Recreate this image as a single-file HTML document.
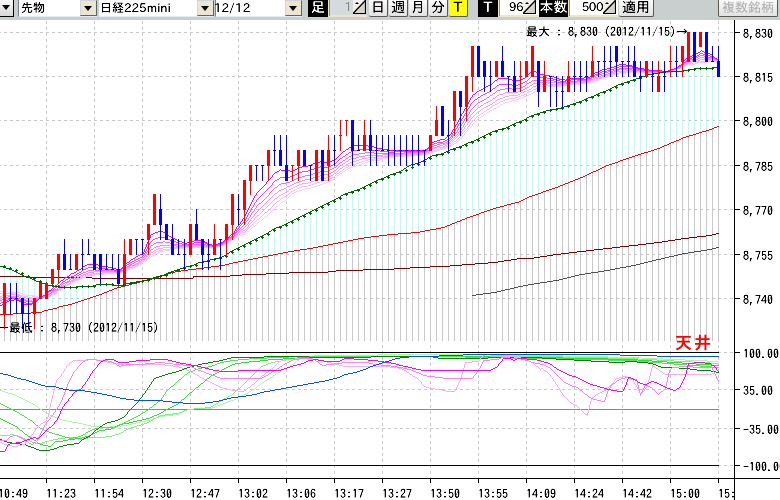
<!DOCTYPE html>
<html><head><meta charset="utf-8"><title>chart</title><style>
html,body{margin:0;padding:0;background:#fff;width:780px;height:500px;overflow:hidden;position:relative}
#chart{position:absolute;left:0;top:0}
#chart text{font-family:"IPAGothic","Noto Sans CJK JP",monospace;font-size:12px;fill:#000}
#chart text.tenjo{font-family:"IPAGothic","Noto Sans CJK JP",sans-serif;font-size:17px;font-weight:700;letter-spacing:2px;fill:#ff0000}
#tb{position:absolute;left:0;top:0;width:780px;height:20px;background:#c9cfcf;font-family:"IPAPGothic","IPAGothic","Noto Sans CJK JP",sans-serif;font-size:12px;overflow:hidden}
#tb div,#tb span{position:absolute;box-sizing:border-box}
.lbtn{left:0;top:0;width:14px;height:17px;background:linear-gradient(#fafafa,#d6d6d6);border-right:1px solid #000;border-bottom:1px solid #000}
.arr{width:0;height:0;border-left:4px solid transparent;border-right:4px solid transparent;border-top:5px solid #000}
.combo{top:0;height:17px;background:#fff;border-left:1px solid #7a8288;border-bottom:1px solid #e4ecf2}
.combo.nb{border-left:1px solid #c9cfcf}
.ct{top:0px;line-height:14px;white-space:nowrap;color:#000}
.cbtn{right:0;top:0;width:17px;height:16px;background:#ece6d0;border:1px solid #cfd4d8;border-right:1px solid #5e6266;border-bottom:1px solid #5e6266}
.blk{top:0;height:17px;background:#000;color:#fff}
.blk span{left:0;right:0;top:0px;text-align:center;line-height:14px;font-size:14px}
.inp{top:0;height:17px;background:#fff;border-bottom:1px solid #efe6c4;border-left:1px solid #efe6c4;box-shadow:inset 1px 0 0 #8c9094, inset 0 -1px 0 #dde6ee}
.inp.dis{background:#d5dade}
.it{top:0px;line-height:12px;color:#000}
.dis .it{color:#8a8a7a}
.spin{top:0px;width:13px;height:14px}
.btn{top:0;height:17px;background:linear-gradient(#fbfbfb,#e2e2e2);border-right:1px solid #585850;border-bottom:1px solid #585850;border-bottom-right-radius:2px;border-bottom-left-radius:2px}
.btn span{left:0;right:0;top:0px;text-align:center;line-height:14px;font-size:14px;color:#000}
.btn.yel{background:#ffff00}
.btn.dtx span{color:#ababab;font-size:13px;top:1px}
.btn.dtx{border-left:1px solid #585850}
.ct,.btn span,.blk span,.it{filter:url(#crisp)}
.btn.dtx span{filter:none}
</style></head>
<body><svg id="chart" width="780" height="500" viewBox="0 0 780 500" shape-rendering="crispEdges"><line x1="46.5" y1="21" x2="46.5" y2="478" stroke="#c8c8c8" stroke-dasharray="3 3"/><line x1="94.5" y1="21" x2="94.5" y2="478" stroke="#c8c8c8" stroke-dasharray="3 3"/><line x1="142.5" y1="21" x2="142.5" y2="478" stroke="#c8c8c8" stroke-dasharray="3 3"/><line x1="190.5" y1="21" x2="190.5" y2="478" stroke="#c8c8c8" stroke-dasharray="3 3"/><line x1="238.5" y1="21" x2="238.5" y2="478" stroke="#c8c8c8" stroke-dasharray="3 3"/><line x1="286.5" y1="21" x2="286.5" y2="478" stroke="#c8c8c8" stroke-dasharray="3 3"/><line x1="334.5" y1="21" x2="334.5" y2="478" stroke="#c8c8c8" stroke-dasharray="3 3"/><line x1="382.5" y1="21" x2="382.5" y2="478" stroke="#c8c8c8" stroke-dasharray="3 3"/><line x1="430.5" y1="21" x2="430.5" y2="478" stroke="#c8c8c8" stroke-dasharray="3 3"/><line x1="478.5" y1="21" x2="478.5" y2="478" stroke="#c8c8c8" stroke-dasharray="3 3"/><line x1="526.5" y1="21" x2="526.5" y2="478" stroke="#c8c8c8" stroke-dasharray="3 3"/><line x1="574.5" y1="21" x2="574.5" y2="478" stroke="#c8c8c8" stroke-dasharray="3 3"/><line x1="622.5" y1="21" x2="622.5" y2="478" stroke="#c8c8c8" stroke-dasharray="3 3"/><line x1="670.5" y1="21" x2="670.5" y2="478" stroke="#c8c8c8" stroke-dasharray="3 3"/><line x1="718.5" y1="21" x2="718.5" y2="478" stroke="#c8c8c8" stroke-dasharray="3 3"/><line x1="-2" y1="32.5" x2="734" y2="32.5" stroke="#c8c8c8" stroke-dasharray="3 3"/><line x1="-2" y1="76.5" x2="734" y2="76.5" stroke="#c8c8c8" stroke-dasharray="3 3"/><line x1="-2" y1="120.5" x2="734" y2="120.5" stroke="#c8c8c8" stroke-dasharray="3 3"/><line x1="-2" y1="165.5" x2="734" y2="165.5" stroke="#c8c8c8" stroke-dasharray="3 3"/><line x1="-2" y1="209.5" x2="734" y2="209.5" stroke="#c8c8c8" stroke-dasharray="3 3"/><line x1="-2" y1="254.5" x2="734" y2="254.5" stroke="#c8c8c8" stroke-dasharray="3 3"/><line x1="-2" y1="298.5" x2="734" y2="298.5" stroke="#c8c8c8" stroke-dasharray="3 3"/><line x1="-2" y1="352.5" x2="734" y2="352.5" stroke="#c8c8c8" stroke-dasharray="3 3"/><line x1="-2" y1="389.5" x2="734" y2="389.5" stroke="#c8c8c8" stroke-dasharray="3 3"/><line x1="-2" y1="428.5" x2="734" y2="428.5" stroke="#c8c8c8" stroke-dasharray="3 3"/><line x1="-2" y1="465.5" x2="734" y2="465.5" stroke="#c8c8c8" stroke-dasharray="3 3"/><rect x="4" y="314" width="1" height="27" fill="#c8c8c8"/><rect x="4" y="266" width="1" height="48" fill="#c4f6f6"/><rect x="10" y="314" width="1" height="27" fill="#c8c8c8"/><rect x="10" y="268" width="1" height="46" fill="#c4f6f6"/><rect x="16" y="313" width="1" height="28" fill="#c8c8c8"/><rect x="16" y="270" width="1" height="43" fill="#c4f6f6"/><rect x="22" y="313" width="1" height="28" fill="#c8c8c8"/><rect x="22" y="273" width="1" height="40" fill="#c4f6f6"/><rect x="28" y="313" width="1" height="28" fill="#c8c8c8"/><rect x="28" y="276" width="1" height="37" fill="#c4f6f6"/><rect x="34" y="312" width="1" height="29" fill="#c8c8c8"/><rect x="34" y="278" width="1" height="34" fill="#c4f6f6"/><rect x="40" y="312" width="1" height="29" fill="#c8c8c8"/><rect x="40" y="281" width="1" height="31" fill="#c4f6f6"/><rect x="46" y="310" width="1" height="31" fill="#c8c8c8"/><rect x="46" y="283" width="1" height="27" fill="#c4f6f6"/><rect x="52" y="308" width="1" height="33" fill="#c8c8c8"/><rect x="52" y="285" width="1" height="23" fill="#c4f6f6"/><rect x="58" y="307" width="1" height="34" fill="#c8c8c8"/><rect x="58" y="286" width="1" height="21" fill="#c4f6f6"/><rect x="64" y="306" width="1" height="35" fill="#c8c8c8"/><rect x="64" y="287" width="1" height="19" fill="#c4f6f6"/><rect x="70" y="304" width="1" height="37" fill="#c8c8c8"/><rect x="70" y="287" width="1" height="17" fill="#c4f6f6"/><rect x="76" y="302" width="1" height="39" fill="#c8c8c8"/><rect x="76" y="287" width="1" height="15" fill="#c4f6f6"/><rect x="82" y="300" width="1" height="41" fill="#c8c8c8"/><rect x="82" y="286" width="1" height="14" fill="#c4f6f6"/><rect x="88" y="298" width="1" height="43" fill="#c8c8c8"/><rect x="88" y="286" width="1" height="12" fill="#c4f6f6"/><rect x="94" y="296" width="1" height="45" fill="#c8c8c8"/><rect x="94" y="286" width="1" height="10" fill="#c4f6f6"/><rect x="100" y="294" width="1" height="47" fill="#c8c8c8"/><rect x="100" y="284" width="1" height="10" fill="#c4f6f6"/><rect x="106" y="292" width="1" height="49" fill="#c8c8c8"/><rect x="106" y="284" width="1" height="8" fill="#c4f6f6"/><rect x="112" y="290" width="1" height="51" fill="#c8c8c8"/><rect x="112" y="284" width="1" height="6" fill="#c4f6f6"/><rect x="118" y="288" width="1" height="53" fill="#c8c8c8"/><rect x="118" y="285" width="1" height="3" fill="#c4f6f6"/><rect x="124" y="286" width="1" height="55" fill="#c8c8c8"/><rect x="124" y="285" width="1" height="1" fill="#c4f6f6"/><rect x="130" y="284" width="1" height="57" fill="#c8c8c8"/><rect x="130" y="283" width="1" height="1" fill="#c4f6f6"/><rect x="136" y="282" width="1" height="59" fill="#c8c8c8"/><rect x="142" y="281" width="1" height="60" fill="#c8c8c8"/><rect x="148" y="279" width="1" height="62" fill="#c8c8c8"/><rect x="154" y="278" width="1" height="63" fill="#c8c8c8"/><rect x="160" y="276" width="1" height="65" fill="#c8c8c8"/><rect x="166" y="274" width="1" height="67" fill="#c8c8c8"/><rect x="172" y="272" width="1" height="69" fill="#c8c8c8"/><rect x="178" y="271" width="1" height="70" fill="#c8c8c8"/><rect x="178" y="270" width="1" height="1" fill="#c4f6f6"/><rect x="184" y="270" width="1" height="71" fill="#c8c8c8"/><rect x="184" y="268" width="1" height="2" fill="#c4f6f6"/><rect x="190" y="269" width="1" height="72" fill="#c8c8c8"/><rect x="190" y="266" width="1" height="3" fill="#c4f6f6"/><rect x="196" y="268" width="1" height="73" fill="#c8c8c8"/><rect x="196" y="265" width="1" height="3" fill="#c4f6f6"/><rect x="202" y="268" width="1" height="73" fill="#c8c8c8"/><rect x="202" y="262" width="1" height="6" fill="#c4f6f6"/><rect x="208" y="267" width="1" height="74" fill="#c8c8c8"/><rect x="208" y="261" width="1" height="6" fill="#c4f6f6"/><rect x="214" y="266" width="1" height="75" fill="#c8c8c8"/><rect x="214" y="259" width="1" height="7" fill="#c4f6f6"/><rect x="220" y="265" width="1" height="76" fill="#c8c8c8"/><rect x="220" y="258" width="1" height="7" fill="#c4f6f6"/><rect x="226" y="264" width="1" height="77" fill="#c8c8c8"/><rect x="226" y="256" width="1" height="8" fill="#c4f6f6"/><rect x="232" y="263" width="1" height="78" fill="#c8c8c8"/><rect x="232" y="252" width="1" height="11" fill="#c4f6f6"/><rect x="238" y="261" width="1" height="80" fill="#c8c8c8"/><rect x="238" y="249" width="1" height="12" fill="#c4f6f6"/><rect x="244" y="260" width="1" height="81" fill="#c8c8c8"/><rect x="244" y="246" width="1" height="14" fill="#c4f6f6"/><rect x="250" y="259" width="1" height="82" fill="#c8c8c8"/><rect x="250" y="243" width="1" height="16" fill="#c4f6f6"/><rect x="256" y="258" width="1" height="83" fill="#c8c8c8"/><rect x="256" y="240" width="1" height="18" fill="#c4f6f6"/><rect x="262" y="256" width="1" height="85" fill="#c8c8c8"/><rect x="262" y="237" width="1" height="19" fill="#c4f6f6"/><rect x="268" y="255" width="1" height="86" fill="#c8c8c8"/><rect x="268" y="234" width="1" height="21" fill="#c4f6f6"/><rect x="274" y="254" width="1" height="87" fill="#c8c8c8"/><rect x="274" y="230" width="1" height="24" fill="#c4f6f6"/><rect x="280" y="253" width="1" height="88" fill="#c8c8c8"/><rect x="280" y="227" width="1" height="26" fill="#c4f6f6"/><rect x="286" y="252" width="1" height="89" fill="#c8c8c8"/><rect x="286" y="225" width="1" height="27" fill="#c4f6f6"/><rect x="292" y="251" width="1" height="90" fill="#c8c8c8"/><rect x="292" y="222" width="1" height="29" fill="#c4f6f6"/><rect x="298" y="250" width="1" height="91" fill="#c8c8c8"/><rect x="298" y="219" width="1" height="31" fill="#c4f6f6"/><rect x="304" y="249" width="1" height="92" fill="#c8c8c8"/><rect x="304" y="216" width="1" height="33" fill="#c4f6f6"/><rect x="310" y="248" width="1" height="93" fill="#c8c8c8"/><rect x="310" y="213" width="1" height="35" fill="#c4f6f6"/><rect x="316" y="247" width="1" height="94" fill="#c8c8c8"/><rect x="316" y="210" width="1" height="37" fill="#c4f6f6"/><rect x="322" y="246" width="1" height="95" fill="#c8c8c8"/><rect x="322" y="207" width="1" height="39" fill="#c4f6f6"/><rect x="328" y="245" width="1" height="96" fill="#c8c8c8"/><rect x="328" y="204" width="1" height="41" fill="#c4f6f6"/><rect x="334" y="244" width="1" height="97" fill="#c8c8c8"/><rect x="334" y="201" width="1" height="43" fill="#c4f6f6"/><rect x="340" y="242" width="1" height="99" fill="#c8c8c8"/><rect x="340" y="198" width="1" height="44" fill="#c4f6f6"/><rect x="346" y="241" width="1" height="100" fill="#c8c8c8"/><rect x="346" y="194" width="1" height="47" fill="#c4f6f6"/><rect x="352" y="240" width="1" height="101" fill="#c8c8c8"/><rect x="352" y="192" width="1" height="48" fill="#c4f6f6"/><rect x="358" y="239" width="1" height="102" fill="#c8c8c8"/><rect x="358" y="190" width="1" height="49" fill="#c4f6f6"/><rect x="364" y="238" width="1" height="103" fill="#c8c8c8"/><rect x="364" y="188" width="1" height="50" fill="#c4f6f6"/><rect x="370" y="237" width="1" height="104" fill="#c8c8c8"/><rect x="370" y="185" width="1" height="52" fill="#c4f6f6"/><rect x="376" y="236" width="1" height="105" fill="#c8c8c8"/><rect x="376" y="182" width="1" height="54" fill="#c4f6f6"/><rect x="382" y="235" width="1" height="106" fill="#c8c8c8"/><rect x="382" y="179" width="1" height="56" fill="#c4f6f6"/><rect x="388" y="234" width="1" height="107" fill="#c8c8c8"/><rect x="388" y="177" width="1" height="57" fill="#c4f6f6"/><rect x="394" y="233" width="1" height="108" fill="#c8c8c8"/><rect x="394" y="174" width="1" height="59" fill="#c4f6f6"/><rect x="400" y="233" width="1" height="108" fill="#c8c8c8"/><rect x="400" y="172" width="1" height="61" fill="#c4f6f6"/><rect x="406" y="232" width="1" height="109" fill="#c8c8c8"/><rect x="406" y="170" width="1" height="62" fill="#c4f6f6"/><rect x="412" y="232" width="1" height="109" fill="#c8c8c8"/><rect x="412" y="167" width="1" height="65" fill="#c4f6f6"/><rect x="418" y="231" width="1" height="110" fill="#c8c8c8"/><rect x="418" y="164" width="1" height="67" fill="#c4f6f6"/><rect x="424" y="230" width="1" height="111" fill="#c8c8c8"/><rect x="424" y="161" width="1" height="69" fill="#c4f6f6"/><rect x="430" y="229" width="1" height="112" fill="#c8c8c8"/><rect x="430" y="158" width="1" height="71" fill="#c4f6f6"/><rect x="436" y="228" width="1" height="113" fill="#c8c8c8"/><rect x="436" y="155" width="1" height="73" fill="#c4f6f6"/><rect x="442" y="227" width="1" height="114" fill="#c8c8c8"/><rect x="442" y="154" width="1" height="73" fill="#c4f6f6"/><rect x="448" y="225" width="1" height="116" fill="#c8c8c8"/><rect x="448" y="152" width="1" height="73" fill="#c4f6f6"/><rect x="454" y="223" width="1" height="118" fill="#c8c8c8"/><rect x="454" y="149" width="1" height="74" fill="#c4f6f6"/><rect x="460" y="220" width="1" height="121" fill="#c8c8c8"/><rect x="460" y="147" width="1" height="73" fill="#c4f6f6"/><rect x="466" y="218" width="1" height="123" fill="#c8c8c8"/><rect x="466" y="145" width="1" height="73" fill="#c4f6f6"/><rect x="472" y="216" width="1" height="125" fill="#c8c8c8"/><rect x="472" y="142" width="1" height="74" fill="#c4f6f6"/><rect x="478" y="214" width="1" height="127" fill="#c8c8c8"/><rect x="478" y="140" width="1" height="74" fill="#c4f6f6"/><rect x="484" y="212" width="1" height="129" fill="#c8c8c8"/><rect x="484" y="137" width="1" height="75" fill="#c4f6f6"/><rect x="490" y="210" width="1" height="131" fill="#c8c8c8"/><rect x="490" y="134" width="1" height="76" fill="#c4f6f6"/><rect x="496" y="208" width="1" height="133" fill="#c8c8c8"/><rect x="496" y="131" width="1" height="77" fill="#c4f6f6"/><rect x="502" y="206" width="1" height="135" fill="#c8c8c8"/><rect x="502" y="129" width="1" height="77" fill="#c4f6f6"/><rect x="508" y="205" width="1" height="136" fill="#c8c8c8"/><rect x="508" y="128" width="1" height="77" fill="#c4f6f6"/><rect x="514" y="203" width="1" height="138" fill="#c8c8c8"/><rect x="514" y="125" width="1" height="78" fill="#c4f6f6"/><rect x="520" y="201" width="1" height="140" fill="#c8c8c8"/><rect x="520" y="122" width="1" height="79" fill="#c4f6f6"/><rect x="526" y="198" width="1" height="143" fill="#c8c8c8"/><rect x="526" y="120" width="1" height="78" fill="#c4f6f6"/><rect x="532" y="196" width="1" height="145" fill="#c8c8c8"/><rect x="532" y="116" width="1" height="80" fill="#c4f6f6"/><rect x="538" y="194" width="1" height="147" fill="#c8c8c8"/><rect x="538" y="114" width="1" height="80" fill="#c4f6f6"/><rect x="544" y="191" width="1" height="150" fill="#c8c8c8"/><rect x="544" y="112" width="1" height="79" fill="#c4f6f6"/><rect x="550" y="189" width="1" height="152" fill="#c8c8c8"/><rect x="550" y="110" width="1" height="79" fill="#c4f6f6"/><rect x="556" y="187" width="1" height="154" fill="#c8c8c8"/><rect x="556" y="109" width="1" height="78" fill="#c4f6f6"/><rect x="562" y="184" width="1" height="157" fill="#c8c8c8"/><rect x="562" y="108" width="1" height="76" fill="#c4f6f6"/><rect x="568" y="182" width="1" height="159" fill="#c8c8c8"/><rect x="568" y="106" width="1" height="76" fill="#c4f6f6"/><rect x="574" y="180" width="1" height="161" fill="#c8c8c8"/><rect x="574" y="104" width="1" height="76" fill="#c4f6f6"/><rect x="580" y="178" width="1" height="163" fill="#c8c8c8"/><rect x="580" y="102" width="1" height="76" fill="#c4f6f6"/><rect x="586" y="175" width="1" height="166" fill="#c8c8c8"/><rect x="586" y="100" width="1" height="75" fill="#c4f6f6"/><rect x="592" y="172" width="1" height="169" fill="#c8c8c8"/><rect x="592" y="97" width="1" height="75" fill="#c4f6f6"/><rect x="598" y="169" width="1" height="172" fill="#c8c8c8"/><rect x="598" y="95" width="1" height="74" fill="#c4f6f6"/><rect x="604" y="166" width="1" height="175" fill="#c8c8c8"/><rect x="604" y="92" width="1" height="74" fill="#c4f6f6"/><rect x="610" y="164" width="1" height="177" fill="#c8c8c8"/><rect x="610" y="90" width="1" height="74" fill="#c4f6f6"/><rect x="616" y="162" width="1" height="179" fill="#c8c8c8"/><rect x="616" y="87" width="1" height="75" fill="#c4f6f6"/><rect x="622" y="160" width="1" height="181" fill="#c8c8c8"/><rect x="622" y="84" width="1" height="76" fill="#c4f6f6"/><rect x="628" y="158" width="1" height="183" fill="#c8c8c8"/><rect x="628" y="82" width="1" height="76" fill="#c4f6f6"/><rect x="634" y="156" width="1" height="185" fill="#c8c8c8"/><rect x="634" y="80" width="1" height="76" fill="#c4f6f6"/><rect x="640" y="154" width="1" height="187" fill="#c8c8c8"/><rect x="640" y="78" width="1" height="76" fill="#c4f6f6"/><rect x="646" y="152" width="1" height="189" fill="#c8c8c8"/><rect x="646" y="76" width="1" height="76" fill="#c4f6f6"/><rect x="652" y="150" width="1" height="191" fill="#c8c8c8"/><rect x="652" y="74" width="1" height="76" fill="#c4f6f6"/><rect x="658" y="148" width="1" height="193" fill="#c8c8c8"/><rect x="658" y="73" width="1" height="75" fill="#c4f6f6"/><rect x="664" y="145" width="1" height="196" fill="#c8c8c8"/><rect x="664" y="72" width="1" height="73" fill="#c4f6f6"/><rect x="670" y="143" width="1" height="198" fill="#c8c8c8"/><rect x="670" y="71" width="1" height="72" fill="#c4f6f6"/><rect x="676" y="140" width="1" height="201" fill="#c8c8c8"/><rect x="676" y="71" width="1" height="69" fill="#c4f6f6"/><rect x="682" y="138" width="1" height="203" fill="#c8c8c8"/><rect x="682" y="71" width="1" height="67" fill="#c4f6f6"/><rect x="688" y="136" width="1" height="205" fill="#c8c8c8"/><rect x="688" y="70" width="1" height="66" fill="#c4f6f6"/><rect x="694" y="134" width="1" height="207" fill="#c8c8c8"/><rect x="694" y="69" width="1" height="65" fill="#c4f6f6"/><rect x="700" y="132" width="1" height="209" fill="#c8c8c8"/><rect x="700" y="68" width="1" height="64" fill="#c4f6f6"/><rect x="706" y="130" width="1" height="211" fill="#c8c8c8"/><rect x="706" y="68" width="1" height="62" fill="#c4f6f6"/><rect x="712" y="128" width="1" height="213" fill="#c8c8c8"/><rect x="712" y="68" width="1" height="60" fill="#c4f6f6"/><rect x="718" y="126" width="1" height="215" fill="#c8c8c8"/><rect x="718" y="67" width="1" height="59" fill="#c4f6f6"/><g fill="none" stroke-width="1"><path d="M716 233h3v1h-3zM712 234h4v1h-4zM706 235h6v1h-6zM697 236h9v1h-9zM689 237h8v1h-8zM681 238h8v1h-8zM675 239h6v1h-6zM668 240h7v1h-7zM662 241h6v1h-6zM654 242h8v1h-8zM646 243h8v1h-8zM638 244h8v1h-8zM629 245h9v1h-9zM620 246h9v1h-9zM612 247h8v1h-8zM603 248h9v1h-9zM594 249h9v1h-9zM586 250h8v1h-8zM577 251h9v1h-9zM569 252h8v1h-8zM561 253h8v1h-8zM553 254h8v1h-8zM547 255h6v1h-6zM540 256h7v1h-7zM534 257h6v1h-6zM517 258h17v1h-17zM511 259h6v1h-6zM504 260h7v1h-7zM498 261h6v1h-6zM488 262h10v1h-10zM475 263h13v1h-13zM462 264h13v1h-13zM450 265h12v1h-12zM430 266h20v1h-20zM410 267h20v1h-20zM394 268h16v1h-16zM363 269h31v1h-31zM336 270h27v1h-27zM328 271h8v1h-8zM289 272h39v1h-39zM266 273h23v1h-23zM242 274h24v1h-24zM230 275h12v1h-12zM0 276h26v1h-26zM193 276h37v1h-37zM26 277h66v1h-66zM193 277h1v1h-1zM92 278h101v1h-101z" fill="#800000"/><path d="M716 247h3v1h-3zM712 248h4v1h-4zM707 249h5v1h-5zM701 250h6v1h-6zM694 251h7v1h-7zM688 252h6v1h-6zM682 253h6v1h-6zM678 254h4v1h-4zM674 255h4v1h-4zM669 256h5v1h-5zM665 257h4v1h-4zM661 258h4v1h-4zM656 259h5v1h-5zM652 260h4v1h-4zM648 261h4v1h-4zM644 262h4v1h-4zM640 263h4v1h-4zM636 264h4v1h-4zM631 265h5v1h-5zM626 266h5v1h-5zM620 267h6v1h-6zM615 268h5v1h-5zM610 269h5v1h-5zM604 270h6v1h-6zM598 271h6v1h-6zM591 272h7v1h-7zM585 273h6v1h-6zM579 274h6v1h-6zM575 275h4v1h-4zM571 276h4v1h-4zM567 277h4v1h-4zM563 278h4v1h-4zM559 279h4v1h-4zM553 280h6v1h-6zM547 281h6v1h-6zM540 282h7v1h-7zM534 283h6v1h-6zM528 284h6v1h-6zM523 285h5v1h-5zM518 286h5v1h-5zM514 287h4v1h-4zM510 288h4v1h-4zM505 289h5v1h-5zM501 290h4v1h-4zM497 291h4v1h-4zM491 292h6v1h-6zM483 293h8v1h-8zM476 294h7v1h-7zM472 295h4v1h-4z" fill="#505050"/><path d="M717 126h2v1h-2zM714 127h3v1h-3zM712 128h2v1h-2zM709 129h3v1h-3zM706 130h3v1h-3zM702 131h4v1h-4zM699 132h3v1h-3zM696 133h3v1h-3zM693 134h3v1h-3zM689 135h4v1h-4zM686 136h3v1h-3zM683 137h3v1h-3zM681 138h2v1h-2zM679 139h2v1h-2zM676 140h3v1h-3zM674 141h2v1h-2zM671 142h3v1h-3zM669 143h2v1h-2zM667 144h2v1h-2zM664 145h3v1h-3zM662 146h2v1h-2zM660 147h2v1h-2zM657 148h3v1h-3zM654 149h3v1h-3zM651 150h3v1h-3zM648 151h3v1h-3zM644 152h4v1h-4zM641 153h3v1h-3zM638 154h3v1h-3zM635 155h3v1h-3zM632 156h3v1h-3zM629 157h3v1h-3zM626 158h3v1h-3zM623 159h3v1h-3zM620 160h3v1h-3zM618 161h2v1h-2zM615 162h3v1h-3zM612 163h3v1h-3zM609 164h3v1h-3zM606 165h3v1h-3zM604 166h2v1h-2zM602 167h2v1h-2zM600 168h2v1h-2zM598 169h2v1h-2zM596 170h2v1h-2zM593 171h3v1h-3zM591 172h2v1h-2zM589 173h2v1h-2zM587 174h2v1h-2zM585 175h2v1h-2zM583 176h2v1h-2zM580 177h3v1h-3zM578 178h2v1h-2zM575 179h3v1h-3zM573 180h2v1h-2zM570 181h3v1h-3zM568 182h2v1h-2zM565 183h3v1h-3zM563 184h2v1h-2zM560 185h3v1h-3zM558 186h2v1h-2zM555 187h3v1h-3zM552 188h3v1h-3zM549 189h3v1h-3zM546 190h3v1h-3zM543 191h3v1h-3zM541 192h2v1h-2zM538 193h3v1h-3zM535 194h3v1h-3zM532 195h3v1h-3zM529 196h3v1h-3zM527 197h2v1h-2zM525 198h2v1h-2zM523 199h2v1h-2zM521 200h2v1h-2zM519 201h2v1h-2zM515 202h4v1h-4zM511 203h4v1h-4zM507 204h4v1h-4zM504 205h3v1h-3zM500 206h4v1h-4zM496 207h4v1h-4zM493 208h3v1h-3zM490 209h3v1h-3zM487 210h3v1h-3zM484 211h3v1h-3zM481 212h3v1h-3zM479 213h2v1h-2zM476 214h3v1h-3zM473 215h3v1h-3zM470 216h3v1h-3zM467 217h3v1h-3zM465 218h2v1h-2zM462 219h3v1h-3zM460 220h2v1h-2zM457 221h3v1h-3zM455 222h2v1h-2zM452 223h3v1h-3zM450 224h2v1h-2zM447 225h3v1h-3zM445 226h2v1h-2zM441 227h4v1h-4zM436 228h5v1h-5zM430 229h6v1h-6zM425 230h5v1h-5zM420 231h5v1h-5zM411 232h9v1h-9zM398 233h13v1h-13zM387 234h11v1h-11zM379 235h8v1h-8zM371 236h8v1h-8zM364 237h7v1h-7zM358 238h6v1h-6zM353 239h5v1h-5zM348 240h5v1h-5zM343 241h5v1h-5zM338 242h5v1h-5zM333 243h5v1h-5zM328 244h5v1h-5zM323 245h5v1h-5zM318 246h5v1h-5zM313 247h5v1h-5zM307 248h6v1h-6zM300 249h7v1h-7zM294 250h6v1h-6zM288 251h6v1h-6zM283 252h5v1h-5zM278 253h5v1h-5zM273 254h5v1h-5zM268 255h5v1h-5zM263 256h5v1h-5zM258 257h5v1h-5zM253 258h5v1h-5zM248 259h5v1h-5zM243 260h5v1h-5zM238 261h5v1h-5zM233 262h5v1h-5zM229 263h4v1h-4zM225 264h4v1h-4zM219 265h6v1h-6zM211 266h8v1h-8zM204 267h7v1h-7zM196 268h8v1h-8zM188 269h8v1h-8zM181 270h7v1h-7zM175 271h6v1h-6zM171 272h4v1h-4zM168 273h3v1h-3zM165 274h3v1h-3zM162 275h3v1h-3zM159 276h3v1h-3zM156 277h3v1h-3zM152 278h4v1h-4zM148 279h4v1h-4zM144 280h4v1h-4zM140 281h4v1h-4zM136 282h4v1h-4zM132 283h4v1h-4zM129 284h3v1h-3zM125 285h4v1h-4zM121 286h4v1h-4zM117 287h4v1h-4zM114 288h3v1h-3zM112 289h2v1h-2zM109 290h3v1h-3zM107 291h2v1h-2zM104 292h3v1h-3zM102 293h2v1h-2zM99 294h3v1h-3zM96 295h3v1h-3zM93 296h3v1h-3zM90 297h3v1h-3zM87 298h3v1h-3zM84 299h3v1h-3zM81 300h3v1h-3zM78 301h3v1h-3zM75 302h3v1h-3zM72 303h3v1h-3zM68 304h4v1h-4zM63 305h5v1h-5zM59 306h4v1h-4zM57 307h2v1h-2zM53 308h4v1h-4zM48 309h5v1h-5zM44 310h4v1h-4zM42 311h2v1h-2zM31 312h11v1h-11zM13 313h18v1h-18zM0 314h13v1h-13z" fill="#ff0000"/></g><g fill="none" stroke-width="1"><path d="M707 61h12v1h-12zM698 62h9v1h-9zM695 63h3v1h-3zM687 64h8v1h-8zM685 65h2v1h-2zM684 66h1v1h-1zM682 67h2v1h-2zM677 68h5v1h-5zM675 69h2v1h-2zM673 70h2v1h-2zM671 71h2v1h-2zM626 72h21v1h-21zM665 72h6v1h-6zM619 73h7v1h-7zM647 73h18v1h-18zM614 74h5v1h-5zM611 75h3v1h-3zM608 76h3v1h-3zM605 77h3v1h-3zM602 78h3v1h-3zM599 79h3v1h-3zM595 80h4v1h-4zM593 81h2v1h-2zM587 82h6v1h-6zM581 83h6v1h-6zM569 84h12v1h-12zM563 85h6v1h-6zM548 86h15v1h-15zM542 87h6v1h-6zM539 88h3v1h-3zM538 89h1v1h-1zM537 90h1v1h-1zM535 91h2v1h-2zM533 92h2v1h-2zM531 93h2v1h-2zM529 94h2v1h-2zM527 95h2v1h-2zM524 96h3v1h-3zM521 97h3v1h-3zM519 98h2v1h-2zM517 99h2v1h-2zM512 100h5v1h-5zM509 101h3v1h-3zM505 102h4v1h-4zM503 103h2v1h-2zM501 104h2v1h-2zM500 105h1v1h-1zM497 106h3v1h-3zM496 107h1v1h-1zM494 108h2v1h-2zM492 109h2v1h-2zM490 110h2v1h-2zM489 111h1v1h-1zM487 112h2v1h-2zM486 113h1v1h-1zM484 114h2v1h-2zM483 115h1v1h-1zM481 116h2v1h-2zM480 117h1v1h-1zM478 118h2v1h-2zM477 119h1v1h-1zM476 120h1v1h-1zM475 121h1v1h-1zM474 122h1v1h-1zM473 123h1v1h-1zM472 124h1v1h-1zM472 125h1v1h-1zM471 126h1v1h-1zM470 127h1v1h-1zM469 128h1v1h-1zM468 129h1v1h-1zM467 130h1v1h-1zM466 131h1v1h-1zM465 132h1v1h-1zM464 133h1v1h-1zM464 134h1v1h-1zM463 135h1v1h-1zM462 136h1v1h-1zM461 137h1v1h-1zM460 138h1v1h-1zM459 139h1v1h-1zM458 140h1v1h-1zM457 141h1v1h-1zM456 142h1v1h-1zM454 143h2v1h-2zM453 144h1v1h-1zM451 145h2v1h-2zM449 146h2v1h-2zM446 147h3v1h-3zM443 148h3v1h-3zM440 149h3v1h-3zM437 150h3v1h-3zM434 151h3v1h-3zM431 152h3v1h-3zM428 153h3v1h-3zM422 154h6v1h-6zM413 155h9v1h-9zM395 156h18v1h-18zM389 157h6v1h-6zM383 158h6v1h-6zM380 159h3v1h-3zM371 160h9v1h-9zM368 161h3v1h-3zM365 162h3v1h-3zM362 163h3v1h-3zM359 164h3v1h-3zM356 165h3v1h-3zM353 166h3v1h-3zM350 167h3v1h-3zM348 168h2v1h-2zM346 169h2v1h-2zM345 170h1v1h-1zM343 171h2v1h-2zM342 172h1v1h-1zM340 173h2v1h-2zM339 174h1v1h-1zM337 175h2v1h-2zM336 176h1v1h-1zM335 177h1v1h-1zM334 178h1v1h-1zM332 179h2v1h-2zM330 180h2v1h-2zM328 181h2v1h-2zM326 182h2v1h-2zM323 183h3v1h-3zM320 184h3v1h-3zM317 185h3v1h-3zM314 186h3v1h-3zM311 187h3v1h-3zM305 188h6v1h-6zM302 189h3v1h-3zM299 190h3v1h-3zM296 191h3v1h-3zM294 192h2v1h-2zM292 193h2v1h-2zM291 194h1v1h-1zM290 195h1v1h-1zM289 196h1v1h-1zM288 197h1v1h-1zM287 198h1v1h-1zM286 199h1v1h-1zM285 200h1v1h-1zM283 201h2v1h-2zM281 202h2v1h-2zM280 203h1v1h-1zM279 204h1v1h-1zM277 205h2v1h-2zM276 206h1v1h-1zM275 207h1v1h-1zM274 208h1v1h-1zM273 209h1v1h-1zM272 210h1v1h-1zM271 211h1v1h-1zM270 212h1v1h-1zM269 213h1v1h-1zM268 214h1v1h-1zM267 215h1v1h-1zM265 216h2v1h-2zM264 217h1v1h-1zM263 218h1v1h-1zM262 219h1v1h-1zM261 220h1v1h-1zM259 221h2v1h-2zM258 222h1v1h-1zM257 223h1v1h-1zM256 224h1v1h-1zM255 225h1v1h-1zM253 226h2v1h-2zM252 227h1v1h-1zM251 228h1v1h-1zM250 229h1v1h-1zM249 230h1v1h-1zM247 231h2v1h-2zM246 232h1v1h-1zM245 233h1v1h-1zM242 234h3v1h-3zM239 235h3v1h-3zM237 236h2v1h-2zM235 237h2v1h-2zM234 238h1v1h-1zM232 239h2v1h-2zM231 240h1v1h-1zM229 241h2v1h-2zM227 242h2v1h-2zM226 243h1v1h-1zM224 244h2v1h-2zM221 245h3v1h-3zM215 246h6v1h-6zM184 247h31v1h-31zM173 248h11v1h-11zM170 249h3v1h-3zM165 250h5v1h-5zM160 251h5v1h-5zM158 252h2v1h-2zM156 253h2v1h-2zM154 254h2v1h-2zM153 255h1v1h-1zM151 256h2v1h-2zM150 257h1v1h-1zM148 258h2v1h-2zM147 259h1v1h-1zM145 260h2v1h-2zM143 261h2v1h-2zM142 262h1v1h-1zM141 263h1v1h-1zM139 264h2v1h-2zM138 265h1v1h-1zM135 266h3v1h-3zM133 267h2v1h-2zM130 268h3v1h-3zM128 269h2v1h-2zM124 270h4v1h-4zM122 271h2v1h-2zM120 272h2v1h-2zM104 273h16v1h-16zM94 274h10v1h-10zM92 275h2v1h-2zM86 276h6v1h-6zM83 277h3v1h-3zM81 278h2v1h-2zM79 279h2v1h-2zM76 280h3v1h-3zM74 281h2v1h-2zM72 282h2v1h-2zM71 283h1v1h-1zM69 284h2v1h-2zM67 285h2v1h-2zM66 286h1v1h-1zM65 287h1v1h-1zM63 288h2v1h-2zM61 289h2v1h-2zM59 290h2v1h-2zM0 291h8v1h-8zM58 291h1v1h-1zM8 292h12v1h-12zM57 292h1v1h-1zM20 293h2v1h-2zM55 293h2v1h-2zM22 294h4v1h-4zM53 294h2v1h-2zM26 295h9v1h-9zM51 295h2v1h-2zM35 296h3v1h-3zM49 296h2v1h-2zM38 297h6v1h-6zM47 297h2v1h-2zM44 298h3v1h-3z" fill="#ffcaff"/><path d="M707 60h6v1h-6zM698 61h9v1h-9zM713 61h6v1h-6zM695 62h3v1h-3zM687 63h8v1h-8zM685 64h2v1h-2zM684 65h1v1h-1zM682 66h2v1h-2zM680 67h2v1h-2zM677 68h3v1h-3zM675 69h2v1h-2zM673 70h2v1h-2zM626 71h14v1h-14zM671 71h2v1h-2zM619 72h7v1h-7zM640 72h19v1h-19zM662 72h9v1h-9zM614 73h5v1h-5zM659 73h3v1h-3zM611 74h3v1h-3zM608 75h3v1h-3zM605 76h3v1h-3zM602 77h3v1h-3zM599 78h3v1h-3zM596 79h3v1h-3zM593 80h3v1h-3zM590 81h3v1h-3zM583 82h7v1h-7zM572 83h11v1h-11zM566 84h6v1h-6zM545 85h21v1h-21zM539 86h6v1h-6zM538 87h1v1h-1zM536 88h2v1h-2zM533 89h3v1h-3zM532 90h1v1h-1zM529 91h3v1h-3zM527 92h2v1h-2zM526 93h1v1h-1zM524 94h2v1h-2zM521 95h3v1h-3zM518 96h3v1h-3zM515 97h3v1h-3zM509 98h6v1h-6zM505 99h4v1h-4zM503 100h2v1h-2zM500 101h3v1h-3zM499 102h1v1h-1zM497 103h2v1h-2zM495 104h2v1h-2zM493 105h2v1h-2zM492 106h1v1h-1zM490 107h2v1h-2zM489 108h1v1h-1zM487 109h2v1h-2zM486 110h1v1h-1zM484 111h2v1h-2zM483 112h1v1h-1zM481 113h2v1h-2zM480 114h1v1h-1zM478 115h2v1h-2zM477 116h1v1h-1zM476 117h1v1h-1zM475 118h1v1h-1zM474 119h1v1h-1zM473 120h1v1h-1zM472 121h1v1h-1zM471 122h1v1h-1zM470 123h1v1h-1zM470 124h1v1h-1zM469 125h1v1h-1zM468 126h1v1h-1zM467 127h1v1h-1zM467 128h1v1h-1zM466 129h1v1h-1zM465 130h1v1h-1zM464 131h1v1h-1zM463 132h1v1h-1zM462 133h1v1h-1zM461 134h1v1h-1zM461 135h1v1h-1zM460 136h1v1h-1zM459 137h1v1h-1zM458 138h1v1h-1zM457 139h1v1h-1zM456 140h1v1h-1zM454 141h2v1h-2zM453 142h1v1h-1zM452 143h1v1h-1zM451 144h1v1h-1zM449 145h2v1h-2zM446 146h3v1h-3zM443 147h3v1h-3zM440 148h3v1h-3zM437 149h3v1h-3zM434 150h3v1h-3zM431 151h3v1h-3zM428 152h3v1h-3zM425 153h3v1h-3zM419 154h6v1h-6zM398 155h21v1h-21zM389 156h9v1h-9zM383 157h6v1h-6zM374 158h9v1h-9zM368 159h6v1h-6zM365 160h3v1h-3zM362 161h3v1h-3zM359 162h3v1h-3zM356 163h3v1h-3zM351 164h5v1h-5zM349 165h2v1h-2zM348 166h1v1h-1zM346 167h2v1h-2zM345 168h1v1h-1zM343 169h2v1h-2zM342 170h1v1h-1zM340 171h2v1h-2zM339 172h1v1h-1zM337 173h2v1h-2zM336 174h1v1h-1zM335 175h1v1h-1zM334 176h1v1h-1zM332 177h2v1h-2zM330 178h2v1h-2zM328 179h2v1h-2zM323 180h5v1h-5zM320 181h3v1h-3zM317 182h3v1h-3zM314 183h3v1h-3zM311 184h3v1h-3zM308 185h3v1h-3zM302 186h6v1h-6zM299 187h3v1h-3zM297 188h2v1h-2zM295 189h2v1h-2zM293 190h2v1h-2zM291 191h2v1h-2zM290 192h1v1h-1zM289 193h1v1h-1zM288 194h1v1h-1zM287 195h1v1h-1zM285 196h2v1h-2zM283 197h2v1h-2zM281 198h2v1h-2zM280 199h1v1h-1zM279 200h1v1h-1zM277 201h2v1h-2zM276 202h1v1h-1zM275 203h1v1h-1zM274 204h1v1h-1zM273 205h1v1h-1zM272 206h1v1h-1zM271 207h1v1h-1zM270 208h1v1h-1zM269 209h1v1h-1zM268 210h1v1h-1zM267 211h1v1h-1zM265 212h2v1h-2zM264 213h1v1h-1zM263 214h1v1h-1zM262 215h1v1h-1zM261 216h1v1h-1zM260 217h1v1h-1zM259 218h1v1h-1zM257 219h2v1h-2zM256 220h1v1h-1zM255 221h1v1h-1zM254 222h1v1h-1zM253 223h1v1h-1zM252 224h1v1h-1zM251 225h1v1h-1zM250 226h1v1h-1zM249 227h1v1h-1zM248 228h1v1h-1zM247 229h1v1h-1zM246 230h1v1h-1zM245 231h1v1h-1zM242 232h3v1h-3zM240 233h2v1h-2zM239 234h1v1h-1zM237 235h2v1h-2zM236 236h1v1h-1zM235 237h1v1h-1zM234 238h1v1h-1zM232 239h2v1h-2zM231 240h1v1h-1zM229 241h2v1h-2zM227 242h2v1h-2zM225 243h2v1h-2zM223 244h2v1h-2zM221 245h2v1h-2zM196 246h1v1h-1zM212 246h9v1h-9zM178 247h18v1h-18zM197 247h15v1h-15zM170 248h8v1h-8zM163 249h7v1h-7zM158 250h5v1h-5zM156 251h2v1h-2zM154 252h2v1h-2zM153 253h1v1h-1zM151 254h2v1h-2zM150 255h1v1h-1zM149 256h1v1h-1zM148 257h1v1h-1zM147 258h1v1h-1zM145 259h2v1h-2zM144 260h1v1h-1zM142 261h2v1h-2zM141 262h1v1h-1zM139 263h2v1h-2zM138 264h1v1h-1zM136 265h2v1h-2zM134 266h2v1h-2zM130 267h4v1h-4zM129 268h1v1h-1zM127 269h2v1h-2zM124 270h3v1h-3zM122 271h2v1h-2zM106 272h10v1h-10zM120 272h2v1h-2zM100 273h6v1h-6zM116 273h4v1h-4zM92 274h8v1h-8zM87 275h5v1h-5zM85 276h2v1h-2zM82 277h3v1h-3zM80 278h2v1h-2zM77 279h3v1h-3zM75 280h2v1h-2zM73 281h2v1h-2zM71 282h2v1h-2zM70 283h1v1h-1zM68 284h2v1h-2zM66 285h2v1h-2zM65 286h1v1h-1zM63 287h2v1h-2zM61 288h2v1h-2zM59 289h2v1h-2zM58 290h1v1h-1zM57 291h1v1h-1zM55 292h2v1h-2zM0 293h17v1h-17zM53 293h2v1h-2zM17 294h3v1h-3zM52 294h1v1h-1zM20 295h3v1h-3zM50 295h2v1h-2zM23 296h5v1h-5zM32 296h3v1h-3zM47 296h3v1h-3zM28 297h4v1h-4zM35 297h12v1h-12z" fill="#ffb8ff"/><path d="M700 59h13v1h-13zM698 60h2v1h-2zM713 60h5v1h-5zM692 61h6v1h-6zM718 61h1v1h-1zM687 62h5v1h-5zM685 63h2v1h-2zM684 64h1v1h-1zM683 65h1v1h-1zM682 66h1v1h-1zM680 67h2v1h-2zM677 68h3v1h-3zM674 69h3v1h-3zM626 70h9v1h-9zM671 70h3v1h-3zM617 71h9v1h-9zM635 71h12v1h-12zM670 71h1v1h-1zM614 72h3v1h-3zM647 72h23v1h-23zM611 73h3v1h-3zM608 74h3v1h-3zM605 75h3v1h-3zM602 76h3v1h-3zM599 77h3v1h-3zM595 78h4v1h-4zM593 79h2v1h-2zM591 80h2v1h-2zM584 81h7v1h-7zM575 82h9v1h-9zM548 83h3v1h-3zM566 83h9v1h-9zM539 84h9v1h-9zM551 84h15v1h-15zM536 85h3v1h-3zM533 86h3v1h-3zM532 87h1v1h-1zM531 88h1v1h-1zM529 89h2v1h-2zM527 90h2v1h-2zM524 91h3v1h-3zM521 92h3v1h-3zM520 93h1v1h-1zM518 94h2v1h-2zM509 95h9v1h-9zM505 96h4v1h-4zM503 97h2v1h-2zM500 98h3v1h-3zM497 99h3v1h-3zM496 100h1v1h-1zM495 101h1v1h-1zM493 102h2v1h-2zM492 103h1v1h-1zM490 104h2v1h-2zM488 105h2v1h-2zM486 106h2v1h-2zM484 107h2v1h-2zM483 108h1v1h-1zM481 109h2v1h-2zM480 110h1v1h-1zM478 111h2v1h-2zM477 112h1v1h-1zM476 113h1v1h-1zM475 114h1v1h-1zM474 115h1v1h-1zM473 116h1v1h-1zM472 117h1v1h-1zM471 118h1v1h-1zM470 119h1v1h-1zM470 120h1v1h-1zM469 121h1v1h-1zM468 122h1v1h-1zM467 123h1v1h-1zM467 124h1v1h-1zM466 125h1v1h-1zM465 126h1v1h-1zM464 127h1v1h-1zM464 128h1v1h-1zM463 129h1v1h-1zM462 130h1v1h-1zM461 131h1v1h-1zM461 132h1v1h-1zM460 133h1v1h-1zM459 134h1v1h-1zM458 135h1v1h-1zM457 136h1v1h-1zM456 137h1v1h-1zM455 138h1v1h-1zM454 139h1v1h-1zM453 140h1v1h-1zM452 141h1v1h-1zM451 142h1v1h-1zM449 143h2v1h-2zM447 144h2v1h-2zM445 145h2v1h-2zM443 146h2v1h-2zM437 147h6v1h-6zM434 148h3v1h-3zM432 149h2v1h-2zM430 150h2v1h-2zM429 151h1v1h-1zM427 152h2v1h-2zM422 153h5v1h-5zM400 154h22v1h-22zM389 155h11v1h-11zM377 156h12v1h-12zM368 157h9v1h-9zM362 158h6v1h-6zM359 159h3v1h-3zM356 160h3v1h-3zM353 161h3v1h-3zM350 162h3v1h-3zM348 163h2v1h-2zM346 164h2v1h-2zM345 165h1v1h-1zM343 166h2v1h-2zM342 167h1v1h-1zM340 168h2v1h-2zM339 169h1v1h-1zM338 170h1v1h-1zM337 171h1v1h-1zM336 172h1v1h-1zM334 173h2v1h-2zM333 174h1v1h-1zM331 175h2v1h-2zM329 176h2v1h-2zM326 177h3v1h-3zM320 178h6v1h-6zM317 179h3v1h-3zM314 180h3v1h-3zM311 181h3v1h-3zM308 182h3v1h-3zM302 183h6v1h-6zM299 184h3v1h-3zM297 185h2v1h-2zM295 186h2v1h-2zM293 187h2v1h-2zM291 188h2v1h-2zM289 189h2v1h-2zM288 190h1v1h-1zM287 191h1v1h-1zM285 192h2v1h-2zM283 193h2v1h-2zM281 194h2v1h-2zM279 195h2v1h-2zM278 196h1v1h-1zM277 197h1v1h-1zM275 198h2v1h-2zM274 199h1v1h-1zM273 200h1v1h-1zM272 201h1v1h-1zM271 202h1v1h-1zM270 203h1v1h-1zM269 204h1v1h-1zM268 205h1v1h-1zM267 206h1v1h-1zM266 207h1v1h-1zM265 208h1v1h-1zM264 209h1v1h-1zM263 210h1v1h-1zM262 211h1v1h-1zM261 212h1v1h-1zM260 213h1v1h-1zM259 214h1v1h-1zM257 215h2v1h-2zM256 216h1v1h-1zM255 217h1v1h-1zM254 218h1v1h-1zM254 219h1v1h-1zM253 220h1v1h-1zM252 221h1v1h-1zM251 222h1v1h-1zM250 223h1v1h-1zM249 224h1v1h-1zM248 225h1v1h-1zM248 226h1v1h-1zM247 227h1v1h-1zM246 228h1v1h-1zM245 229h1v1h-1zM243 230h2v1h-2zM241 231h2v1h-2zM239 232h2v1h-2zM238 233h1v1h-1zM237 234h1v1h-1zM236 235h1v1h-1zM235 236h1v1h-1zM234 237h1v1h-1zM232 238h2v1h-2zM231 239h1v1h-1zM229 240h2v1h-2zM227 241h2v1h-2zM226 242h1v1h-1zM224 243h2v1h-2zM222 244h2v1h-2zM221 245h1v1h-1zM186 246h35v1h-35zM163 247h23v1h-23zM158 248h5v1h-5zM156 249h2v1h-2zM154 250h2v1h-2zM153 251h1v1h-1zM151 252h2v1h-2zM150 253h1v1h-1zM149 254h1v1h-1zM148 255h1v1h-1zM147 256h1v1h-1zM146 257h1v1h-1zM145 258h1v1h-1zM144 259h1v1h-1zM142 260h2v1h-2zM141 261h1v1h-1zM139 262h2v1h-2zM138 263h1v1h-1zM136 264h2v1h-2zM134 265h2v1h-2zM132 266h2v1h-2zM129 267h3v1h-3zM127 268h2v1h-2zM124 269h3v1h-3zM123 270h1v1h-1zM121 271h2v1h-2zM102 272h19v1h-19zM92 273h10v1h-10zM86 274h6v1h-6zM83 275h3v1h-3zM82 276h1v1h-1zM80 277h2v1h-2zM77 278h3v1h-3zM75 279h2v1h-2zM73 280h2v1h-2zM71 281h2v1h-2zM70 282h1v1h-1zM69 283h1v1h-1zM67 284h2v1h-2zM65 285h2v1h-2zM63 286h2v1h-2zM61 287h2v1h-2zM60 288h1v1h-1zM59 289h1v1h-1zM57 290h2v1h-2zM55 291h2v1h-2zM53 292h2v1h-2zM52 293h1v1h-1zM10 294h7v1h-7zM50 294h2v1h-2zM2 295h8v1h-8zM17 295h3v1h-3zM47 295h3v1h-3zM0 296h2v1h-2zM20 296h2v1h-2zM44 296h3v1h-3zM22 297h4v1h-4zM38 297h6v1h-6zM26 298h12v1h-12z" fill="#ffa4ff"/><path d="M700 57h4v1h-4zM698 58h2v1h-2zM704 58h9v1h-9zM695 59h3v1h-3zM713 59h3v1h-3zM692 60h3v1h-3zM716 60h3v1h-3zM687 61h5v1h-5zM686 62h1v1h-1zM685 63h1v1h-1zM684 64h1v1h-1zM682 65h2v1h-2zM681 66h1v1h-1zM679 67h2v1h-2zM677 68h2v1h-2zM619 69h13v1h-13zM674 69h3v1h-3zM617 70h2v1h-2zM632 70h9v1h-9zM671 70h3v1h-3zM614 71h3v1h-3zM641 71h8v1h-8zM668 71h3v1h-3zM611 72h3v1h-3zM649 72h19v1h-19zM608 73h3v1h-3zM605 74h3v1h-3zM601 75h4v1h-4zM599 76h2v1h-2zM595 77h4v1h-4zM593 78h2v1h-2zM591 79h2v1h-2zM587 80h4v1h-4zM577 81h10v1h-10zM539 82h18v1h-18zM569 82h8v1h-8zM533 83h6v1h-6zM557 83h12v1h-12zM532 84h1v1h-1zM530 85h2v1h-2zM529 86h1v1h-1zM527 87h2v1h-2zM525 88h2v1h-2zM523 89h2v1h-2zM521 90h2v1h-2zM518 91h3v1h-3zM505 92h13v1h-13zM503 93h2v1h-2zM499 94h4v1h-4zM497 95h2v1h-2zM496 96h1v1h-1zM495 97h1v1h-1zM493 98h2v1h-2zM492 99h1v1h-1zM490 100h2v1h-2zM488 101h2v1h-2zM486 102h2v1h-2zM484 103h2v1h-2zM483 104h1v1h-1zM481 105h2v1h-2zM480 106h1v1h-1zM478 107h2v1h-2zM477 108h1v1h-1zM476 109h1v1h-1zM475 110h1v1h-1zM474 111h1v1h-1zM473 112h1v1h-1zM472 113h1v1h-1zM471 114h1v1h-1zM470 115h1v1h-1zM470 116h1v1h-1zM469 117h1v1h-1zM468 118h1v1h-1zM467 119h1v1h-1zM467 120h1v1h-1zM466 121h1v1h-1zM465 122h1v1h-1zM464 123h1v1h-1zM464 124h1v1h-1zM463 125h1v1h-1zM463 126h1v1h-1zM462 127h1v1h-1zM461 128h1v1h-1zM461 129h1v1h-1zM460 130h1v1h-1zM459 131h1v1h-1zM458 132h1v1h-1zM458 133h1v1h-1zM457 134h1v1h-1zM456 135h1v1h-1zM455 136h1v1h-1zM454 137h1v1h-1zM453 138h1v1h-1zM452 139h1v1h-1zM451 140h1v1h-1zM450 141h1v1h-1zM448 142h2v1h-2zM446 143h2v1h-2zM443 144h3v1h-3zM440 145h3v1h-3zM437 146h3v1h-3zM434 147h3v1h-3zM432 148h2v1h-2zM430 149h2v1h-2zM429 150h1v1h-1zM427 151h2v1h-2zM422 152h5v1h-5zM404 153h18v1h-18zM383 154h21v1h-21zM365 155h18v1h-18zM359 156h6v1h-6zM356 157h3v1h-3zM351 158h5v1h-5zM349 159h2v1h-2zM348 160h1v1h-1zM346 161h2v1h-2zM345 162h1v1h-1zM343 163h2v1h-2zM342 164h1v1h-1zM340 165h2v1h-2zM339 166h1v1h-1zM338 167h1v1h-1zM337 168h1v1h-1zM336 169h1v1h-1zM334 170h2v1h-2zM333 171h1v1h-1zM331 172h2v1h-2zM329 173h2v1h-2zM323 174h6v1h-6zM320 175h3v1h-3zM315 176h5v1h-5zM313 177h2v1h-2zM311 178h2v1h-2zM305 179h6v1h-6zM302 180h3v1h-3zM299 181h3v1h-3zM296 182h3v1h-3zM294 183h2v1h-2zM292 184h2v1h-2zM290 185h2v1h-2zM287 186h3v1h-3zM286 187h1v1h-1zM284 188h2v1h-2zM281 189h3v1h-3zM279 190h2v1h-2zM278 191h1v1h-1zM277 192h1v1h-1zM275 193h2v1h-2zM274 194h1v1h-1zM273 195h1v1h-1zM272 196h1v1h-1zM271 197h1v1h-1zM270 198h1v1h-1zM269 199h1v1h-1zM268 200h1v1h-1zM267 201h1v1h-1zM266 202h1v1h-1zM265 203h1v1h-1zM264 204h1v1h-1zM263 205h1v1h-1zM262 206h1v1h-1zM261 207h1v1h-1zM260 208h1v1h-1zM259 209h1v1h-1zM258 210h1v1h-1zM257 211h1v1h-1zM256 212h1v1h-1zM255 213h1v1h-1zM254 214h1v1h-1zM254 215h1v1h-1zM253 216h1v1h-1zM252 217h1v1h-1zM251 218h1v1h-1zM250 219h1v1h-1zM250 220h1v1h-1zM249 221h1v1h-1zM248 222h1v1h-1zM248 223h1v1h-1zM247 224h1v1h-1zM246 225h1v1h-1zM245 226h1v1h-1zM244 227h1v1h-1zM243 228h1v1h-1zM241 229h2v1h-2zM240 230h1v1h-1zM239 231h1v1h-1zM238 232h1v1h-1zM237 233h1v1h-1zM236 234h1v1h-1zM235 235h1v1h-1zM234 236h1v1h-1zM232 237h2v1h-2zM231 238h1v1h-1zM229 239h2v1h-2zM227 240h2v1h-2zM226 241h1v1h-1zM225 242h1v1h-1zM223 243h2v1h-2zM221 244h2v1h-2zM160 245h16v1h-16zM191 245h15v1h-15zM218 245h3v1h-3zM156 246h4v1h-4zM176 246h15v1h-15zM206 246h12v1h-12zM154 247h2v1h-2zM153 248h1v1h-1zM151 249h2v1h-2zM150 250h1v1h-1zM150 251h1v1h-1zM149 252h1v1h-1zM148 253h1v1h-1zM147 254h1v1h-1zM146 255h1v1h-1zM146 256h1v1h-1zM145 257h1v1h-1zM144 258h1v1h-1zM142 259h2v1h-2zM141 260h1v1h-1zM139 261h2v1h-2zM138 262h1v1h-1zM136 263h2v1h-2zM134 264h2v1h-2zM130 265h4v1h-4zM129 266h1v1h-1zM127 267h2v1h-2zM125 268h2v1h-2zM124 269h1v1h-1zM122 270h2v1h-2zM94 271h22v1h-22zM120 271h2v1h-2zM88 272h6v1h-6zM116 272h4v1h-4zM86 273h2v1h-2zM83 274h3v1h-3zM81 275h2v1h-2zM79 276h2v1h-2zM77 277h2v1h-2zM75 278h2v1h-2zM73 279h2v1h-2zM71 280h2v1h-2zM69 281h2v1h-2zM67 282h2v1h-2zM66 283h1v1h-1zM65 284h1v1h-1zM63 285h2v1h-2zM61 286h2v1h-2zM60 287h1v1h-1zM59 288h1v1h-1zM57 289h2v1h-2zM55 290h2v1h-2zM53 291h2v1h-2zM52 292h1v1h-1zM50 293h2v1h-2zM48 294h2v1h-2zM47 295h1v1h-1zM8 296h11v1h-11zM44 296h3v1h-3zM2 297h6v1h-6zM19 297h2v1h-2zM40 297h4v1h-4zM0 298h2v1h-2zM21 298h2v1h-2zM35 298h5v1h-5zM23 299h3v1h-3zM32 299h3v1h-3zM26 300h6v1h-6z" fill="#ff8cff"/><path d="M700 55h4v1h-4zM698 56h2v1h-2zM704 56h3v1h-3zM696 57h2v1h-2zM707 57h6v1h-6zM694 58h2v1h-2zM713 58h2v1h-2zM689 59h5v1h-5zM715 59h2v1h-2zM687 60h2v1h-2zM717 60h2v1h-2zM686 61h1v1h-1zM685 62h1v1h-1zM684 63h1v1h-1zM682 64h2v1h-2zM681 65h1v1h-1zM679 66h2v1h-2zM677 67h2v1h-2zM619 68h16v1h-16zM675 68h2v1h-2zM617 69h2v1h-2zM635 69h3v1h-3zM673 69h2v1h-2zM613 70h4v1h-4zM638 70h9v1h-9zM671 70h2v1h-2zM608 71h5v1h-5zM647 71h15v1h-15zM668 71h3v1h-3zM605 72h3v1h-3zM662 72h6v1h-6zM602 73h3v1h-3zM599 74h3v1h-3zM596 75h3v1h-3zM594 76h2v1h-2zM592 77h2v1h-2zM591 78h1v1h-1zM587 79h4v1h-4zM532 80h22v1h-22zM577 80h10v1h-10zM531 81h1v1h-1zM554 81h3v1h-3zM569 81h8v1h-8zM529 82h2v1h-2zM557 82h12v1h-12zM527 83h2v1h-2zM526 84h1v1h-1zM525 85h1v1h-1zM523 86h2v1h-2zM521 87h2v1h-2zM505 88h7v1h-7zM515 88h6v1h-6zM500 89h5v1h-5zM512 89h3v1h-3zM497 90h3v1h-3zM496 91h1v1h-1zM495 92h1v1h-1zM493 93h2v1h-2zM492 94h1v1h-1zM490 95h2v1h-2zM489 96h1v1h-1zM487 97h2v1h-2zM486 98h1v1h-1zM484 99h2v1h-2zM482 100h2v1h-2zM480 101h2v1h-2zM478 102h2v1h-2zM477 103h1v1h-1zM476 104h1v1h-1zM475 105h1v1h-1zM474 106h1v1h-1zM473 107h1v1h-1zM472 108h1v1h-1zM471 109h1v1h-1zM470 110h1v1h-1zM470 111h1v1h-1zM469 112h1v1h-1zM469 113h1v1h-1zM468 114h1v1h-1zM467 115h1v1h-1zM467 116h1v1h-1zM466 117h1v1h-1zM465 118h1v1h-1zM464 119h1v1h-1zM464 120h1v1h-1zM463 121h1v1h-1zM463 122h1v1h-1zM462 123h1v1h-1zM461 124h1v1h-1zM461 125h1v1h-1zM460 126h1v1h-1zM459 127h1v1h-1zM458 128h1v1h-1zM458 129h1v1h-1zM457 130h1v1h-1zM457 131h1v1h-1zM456 132h1v1h-1zM455 133h1v1h-1zM454 134h1v1h-1zM453 135h1v1h-1zM452 136h1v1h-1zM452 137h1v1h-1zM451 138h1v1h-1zM450 139h1v1h-1zM448 140h2v1h-2zM447 141h1v1h-1zM445 142h2v1h-2zM440 143h5v1h-5zM437 144h3v1h-3zM434 145h3v1h-3zM432 146h2v1h-2zM431 147h1v1h-1zM430 148h1v1h-1zM429 149h1v1h-1zM427 150h2v1h-2zM425 151h2v1h-2zM365 152h9v1h-9zM404 152h21v1h-21zM359 153h6v1h-6zM374 153h30v1h-30zM353 154h6v1h-6zM351 155h2v1h-2zM349 156h2v1h-2zM348 157h1v1h-1zM346 158h2v1h-2zM345 159h1v1h-1zM343 160h2v1h-2zM342 161h1v1h-1zM340 162h2v1h-2zM339 163h1v1h-1zM338 164h1v1h-1zM337 165h1v1h-1zM336 166h1v1h-1zM334 167h2v1h-2zM332 168h2v1h-2zM330 169h2v1h-2zM328 170h2v1h-2zM320 171h8v1h-8zM315 172h5v1h-5zM313 173h2v1h-2zM311 174h2v1h-2zM305 175h6v1h-6zM302 176h3v1h-3zM299 177h3v1h-3zM296 178h3v1h-3zM294 179h2v1h-2zM292 180h2v1h-2zM290 181h2v1h-2zM286 182h4v1h-4zM281 183h5v1h-5zM279 184h2v1h-2zM278 185h1v1h-1zM277 186h1v1h-1zM275 187h2v1h-2zM274 188h1v1h-1zM273 189h1v1h-1zM272 190h1v1h-1zM271 191h1v1h-1zM270 192h1v1h-1zM269 193h1v1h-1zM269 194h1v1h-1zM268 195h1v1h-1zM267 196h1v1h-1zM266 197h1v1h-1zM265 198h1v1h-1zM264 199h1v1h-1zM263 200h1v1h-1zM262 201h1v1h-1zM261 202h1v1h-1zM259 203h2v1h-2zM258 204h1v1h-1zM257 205h1v1h-1zM256 206h1v1h-1zM256 207h1v1h-1zM255 208h1v1h-1zM254 209h1v1h-1zM254 210h1v1h-1zM253 211h1v1h-1zM252 212h1v1h-1zM251 213h1v1h-1zM251 214h1v1h-1zM250 215h1v1h-1zM250 216h1v1h-1zM249 217h1v1h-1zM248 218h1v1h-1zM248 219h1v1h-1zM247 220h1v1h-1zM246 221h1v1h-1zM245 222h1v1h-1zM245 223h1v1h-1zM244 224h1v1h-1zM243 225h1v1h-1zM242 226h1v1h-1zM241 227h1v1h-1zM240 228h1v1h-1zM239 229h1v1h-1zM238 230h1v1h-1zM237 231h1v1h-1zM236 232h1v1h-1zM235 233h1v1h-1zM234 234h1v1h-1zM234 235h1v1h-1zM232 236h2v1h-2zM231 237h1v1h-1zM229 238h2v1h-2zM227 239h2v1h-2zM226 240h1v1h-1zM163 241h2v1h-2zM225 241h1v1h-1zM156 242h7v1h-7zM165 242h5v1h-5zM223 242h2v1h-2zM154 243h2v1h-2zM170 243h3v1h-3zM222 243h1v1h-1zM153 244h1v1h-1zM173 244h6v1h-6zM191 244h15v1h-15zM221 244h1v1h-1zM151 245h2v1h-2zM179 245h12v1h-12zM206 245h6v1h-6zM215 245h6v1h-6zM150 246h1v1h-1zM212 246h3v1h-3zM150 247h1v1h-1zM149 248h1v1h-1zM149 249h1v1h-1zM148 250h1v1h-1zM147 251h1v1h-1zM146 252h1v1h-1zM146 253h1v1h-1zM145 254h1v1h-1zM145 255h1v1h-1zM144 256h1v1h-1zM143 257h1v1h-1zM142 258h1v1h-1zM140 259h2v1h-2zM138 260h2v1h-2zM136 261h2v1h-2zM134 262h2v1h-2zM132 263h2v1h-2zM130 264h2v1h-2zM129 265h1v1h-1zM127 266h2v1h-2zM125 267h2v1h-2zM124 268h1v1h-1zM94 269h1v1h-1zM123 269h1v1h-1zM88 270h6v1h-6zM95 270h19v1h-19zM121 270h2v1h-2zM86 271h2v1h-2zM114 271h7v1h-7zM83 272h3v1h-3zM81 273h2v1h-2zM79 274h2v1h-2zM77 275h2v1h-2zM76 276h1v1h-1zM74 277h2v1h-2zM71 278h3v1h-3zM70 279h1v1h-1zM69 280h1v1h-1zM67 281h2v1h-2zM65 282h2v1h-2zM63 283h2v1h-2zM62 284h1v1h-1zM61 285h1v1h-1zM59 286h2v1h-2zM58 287h1v1h-1zM57 288h1v1h-1zM55 289h2v1h-2zM53 290h2v1h-2zM52 291h1v1h-1zM51 292h1v1h-1zM49 293h2v1h-2zM47 294h2v1h-2zM44 295h3v1h-3zM41 296h3v1h-3zM10 297h7v1h-7zM40 297h1v1h-1zM5 298h5v1h-5zM17 298h3v1h-3zM38 298h2v1h-2zM2 299h3v1h-3zM20 299h2v1h-2zM35 299h3v1h-3zM0 300h2v1h-2zM22 300h4v1h-4zM34 300h1v1h-1zM26 301h2v1h-2zM29 301h5v1h-5zM28 302h1v1h-1z" fill="#ff66ff"/><path d="M700 53h3v1h-3zM699 54h1v1h-1zM703 54h2v1h-2zM697 55h2v1h-2zM705 55h5v1h-5zM695 56h2v1h-2zM710 56h2v1h-2zM692 57h3v1h-3zM712 57h2v1h-2zM689 58h3v1h-3zM714 58h2v1h-2zM687 59h2v1h-2zM716 59h2v1h-2zM686 60h1v1h-1zM718 60h1v1h-1zM685 61h1v1h-1zM684 62h1v1h-1zM683 63h1v1h-1zM682 64h1v1h-1zM681 65h1v1h-1zM619 66h13v1h-13zM679 66h2v1h-2zM617 67h2v1h-2zM632 67h3v1h-3zM677 67h2v1h-2zM614 68h3v1h-3zM635 68h3v1h-3zM674 68h3v1h-3zM611 69h3v1h-3zM638 69h6v1h-6zM671 69h3v1h-3zM607 70h4v1h-4zM644 70h9v1h-9zM668 70h3v1h-3zM602 71h5v1h-5zM653 71h15v1h-15zM600 72h2v1h-2zM598 73h2v1h-2zM595 74h3v1h-3zM594 75h1v1h-1zM531 76h7v1h-7zM592 76h2v1h-2zM530 77h1v1h-1zM538 77h9v1h-9zM591 77h1v1h-1zM529 78h1v1h-1zM547 78h6v1h-6zM587 78h4v1h-4zM528 79h1v1h-1zM553 79h4v1h-4zM571 79h16v1h-16zM527 80h1v1h-1zM557 80h3v1h-3zM566 80h5v1h-5zM525 81h2v1h-2zM560 81h6v1h-6zM523 82h2v1h-2zM508 83h1v1h-1zM521 83h2v1h-2zM499 84h9v1h-9zM509 84h3v1h-3zM518 84h3v1h-3zM497 85h2v1h-2zM512 85h6v1h-6zM496 86h1v1h-1zM495 87h1v1h-1zM493 88h2v1h-2zM492 89h1v1h-1zM490 90h2v1h-2zM489 91h1v1h-1zM487 92h2v1h-2zM485 93h2v1h-2zM483 94h2v1h-2zM481 95h2v1h-2zM480 96h1v1h-1zM478 97h2v1h-2zM477 98h1v1h-1zM475 99h2v1h-2zM474 100h1v1h-1zM473 101h1v1h-1zM472 102h1v1h-1zM471 103h1v1h-1zM470 104h1v1h-1zM470 105h1v1h-1zM469 106h1v1h-1zM469 107h1v1h-1zM468 108h1v1h-1zM467 109h1v1h-1zM467 110h1v1h-1zM466 111h1v1h-1zM466 112h1v1h-1zM465 113h1v1h-1zM464 114h1v1h-1zM464 115h1v1h-1zM463 116h1v1h-1zM463 117h1v1h-1zM462 118h1v1h-1zM461 119h1v1h-1zM461 120h1v1h-1zM460 121h1v1h-1zM460 122h1v1h-1zM459 123h1v1h-1zM458 124h1v1h-1zM458 125h1v1h-1zM457 126h1v1h-1zM457 127h1v1h-1zM456 128h1v1h-1zM455 129h1v1h-1zM455 130h1v1h-1zM454 131h1v1h-1zM453 132h1v1h-1zM452 133h1v1h-1zM452 134h1v1h-1zM451 135h1v1h-1zM451 136h1v1h-1zM450 137h1v1h-1zM448 138h2v1h-2zM447 139h1v1h-1zM445 140h2v1h-2zM443 141h2v1h-2zM437 142h6v1h-6zM434 143h3v1h-3zM432 144h2v1h-2zM431 145h1v1h-1zM430 146h1v1h-1zM429 147h1v1h-1zM428 148h1v1h-1zM359 149h12v1h-12zM427 149h1v1h-1zM353 150h6v1h-6zM371 150h9v1h-9zM425 150h2v1h-2zM351 151h2v1h-2zM380 151h9v1h-9zM395 151h30v1h-30zM349 152h2v1h-2zM389 152h6v1h-6zM348 153h1v1h-1zM346 154h2v1h-2zM345 155h1v1h-1zM343 156h2v1h-2zM342 157h1v1h-1zM340 158h2v1h-2zM339 159h1v1h-1zM338 160h1v1h-1zM337 161h1v1h-1zM336 162h1v1h-1zM334 163h2v1h-2zM333 164h1v1h-1zM331 165h2v1h-2zM320 166h3v1h-3zM329 166h2v1h-2zM317 167h3v1h-3zM323 167h6v1h-6zM314 168h3v1h-3zM311 169h3v1h-3zM308 170h3v1h-3zM302 171h6v1h-6zM299 172h3v1h-3zM297 173h2v1h-2zM295 174h2v1h-2zM293 175h2v1h-2zM290 176h3v1h-3zM280 177h10v1h-10zM279 178h1v1h-1zM277 179h2v1h-2zM275 180h2v1h-2zM274 181h1v1h-1zM273 182h1v1h-1zM272 183h1v1h-1zM272 184h1v1h-1zM271 185h1v1h-1zM270 186h1v1h-1zM269 187h1v1h-1zM268 188h1v1h-1zM267 189h1v1h-1zM266 190h1v1h-1zM265 191h1v1h-1zM264 192h1v1h-1zM263 193h1v1h-1zM262 194h1v1h-1zM261 195h1v1h-1zM260 196h1v1h-1zM259 197h1v1h-1zM258 198h1v1h-1zM257 199h1v1h-1zM256 200h1v1h-1zM256 201h1v1h-1zM255 202h1v1h-1zM254 203h1v1h-1zM254 204h1v1h-1zM253 205h1v1h-1zM253 206h1v1h-1zM252 207h1v1h-1zM251 208h1v1h-1zM251 209h1v1h-1zM250 210h1v1h-1zM250 211h1v1h-1zM249 212h1v1h-1zM248 213h1v1h-1zM248 214h1v1h-1zM247 215h1v1h-1zM247 216h1v1h-1zM246 217h1v1h-1zM246 218h1v1h-1zM245 219h1v1h-1zM245 220h1v1h-1zM244 221h1v1h-1zM243 222h1v1h-1zM242 223h1v1h-1zM241 224h1v1h-1zM240 225h1v1h-1zM239 226h1v1h-1zM239 227h1v1h-1zM238 228h1v1h-1zM237 229h1v1h-1zM236 230h1v1h-1zM236 231h1v1h-1zM235 232h1v1h-1zM234 233h1v1h-1zM233 234h1v1h-1zM232 235h1v1h-1zM231 236h1v1h-1zM158 237h7v1h-7zM229 237h2v1h-2zM155 238h3v1h-3zM165 238h1v1h-1zM227 238h2v1h-2zM153 239h2v1h-2zM166 239h4v1h-4zM226 239h1v1h-1zM152 240h1v1h-1zM170 240h2v1h-2zM225 240h1v1h-1zM151 241h1v1h-1zM172 241h4v1h-4zM224 241h1v1h-1zM150 242h1v1h-1zM176 242h2v1h-2zM194 242h11v1h-11zM223 242h1v1h-1zM149 243h1v1h-1zM178 243h4v1h-4zM191 243h3v1h-3zM205 243h2v1h-2zM221 243h2v1h-2zM149 244h1v1h-1zM182 244h9v1h-9zM207 244h1v1h-1zM218 244h3v1h-3zM148 245h1v1h-1zM208 245h4v1h-4zM215 245h3v1h-3zM148 246h1v1h-1zM212 246h3v1h-3zM147 247h1v1h-1zM147 248h1v1h-1zM146 249h1v1h-1zM146 250h1v1h-1zM145 251h1v1h-1zM145 252h1v1h-1zM144 253h1v1h-1zM144 254h1v1h-1zM143 255h1v1h-1zM142 256h1v1h-1zM140 257h2v1h-2zM138 258h2v1h-2zM136 259h2v1h-2zM134 260h2v1h-2zM132 261h2v1h-2zM130 262h2v1h-2zM129 263h1v1h-1zM127 264h2v1h-2zM126 265h1v1h-1zM124 266h2v1h-2zM88 267h10v1h-10zM123 267h1v1h-1zM86 268h2v1h-2zM98 268h10v1h-10zM122 268h1v1h-1zM83 269h3v1h-3zM108 269h6v1h-6zM121 269h1v1h-1zM82 270h1v1h-1zM114 270h4v1h-4zM120 270h1v1h-1zM81 271h1v1h-1zM118 271h2v1h-2zM79 272h2v1h-2zM77 273h2v1h-2zM76 274h1v1h-1zM74 275h2v1h-2zM71 276h3v1h-3zM70 277h1v1h-1zM68 278h2v1h-2zM66 279h2v1h-2zM65 280h1v1h-1zM63 281h2v1h-2zM62 282h1v1h-1zM61 283h1v1h-1zM60 284h1v1h-1zM59 285h1v1h-1zM57 286h2v1h-2zM55 287h2v1h-2zM54 288h1v1h-1zM53 289h1v1h-1zM51 290h2v1h-2zM49 291h2v1h-2zM48 292h1v1h-1zM47 293h1v1h-1zM45 294h2v1h-2zM43 295h2v1h-2zM42 296h1v1h-1zM41 297h1v1h-1zM11 298h6v1h-6zM39 298h2v1h-2zM8 299h3v1h-3zM17 299h2v1h-2zM37 299h2v1h-2zM5 300h3v1h-3zM19 300h2v1h-2zM36 300h1v1h-1zM3 301h2v1h-2zM21 301h2v1h-2zM35 301h1v1h-1zM1 302h2v1h-2zM23 302h3v1h-3zM32 302h3v1h-3zM0 303h1v1h-1zM26 303h6v1h-6z" fill="#ff38ff"/><path d="M701 50h1v1h-1zM700 51h1v1h-1zM702 51h2v1h-2zM698 52h2v1h-2zM704 52h3v1h-3zM696 53h2v1h-2zM707 53h3v1h-3zM694 54h2v1h-2zM710 54h2v1h-2zM692 55h2v1h-2zM712 55h1v1h-1zM689 56h3v1h-3zM713 56h1v1h-1zM687 57h2v1h-2zM714 57h1v1h-1zM686 58h1v1h-1zM715 58h2v1h-2zM685 59h1v1h-1zM717 59h1v1h-1zM684 60h1v1h-1zM718 60h1v1h-1zM683 61h1v1h-1zM683 62h1v1h-1zM682 63h1v1h-1zM619 64h7v1h-7zM681 64h1v1h-1zM617 65h2v1h-2zM626 65h6v1h-6zM679 65h2v1h-2zM614 66h3v1h-3zM632 66h3v1h-3zM678 66h1v1h-1zM611 67h3v1h-3zM635 67h3v1h-3zM676 67h2v1h-2zM607 68h4v1h-4zM638 68h6v1h-6zM674 68h2v1h-2zM602 69h5v1h-5zM644 69h5v1h-5zM671 69h3v1h-3zM532 70h1v1h-1zM600 70h2v1h-2zM649 70h13v1h-13zM668 70h3v1h-3zM531 71h1v1h-1zM533 71h3v1h-3zM598 71h2v1h-2zM662 71h6v1h-6zM530 72h1v1h-1zM536 72h2v1h-2zM595 72h3v1h-3zM529 73h1v1h-1zM538 73h1v1h-1zM594 73h1v1h-1zM528 74h1v1h-1zM539 74h6v1h-6zM592 74h2v1h-2zM527 75h1v1h-1zM545 75h5v1h-5zM591 75h1v1h-1zM526 76h1v1h-1zM550 76h4v1h-4zM590 76h1v1h-1zM525 77h1v1h-1zM554 77h3v1h-3zM584 77h6v1h-6zM498 78h11v1h-11zM523 78h2v1h-2zM557 78h2v1h-2zM569 78h15v1h-15zM497 79h1v1h-1zM509 79h3v1h-3zM521 79h2v1h-2zM559 79h6v1h-6zM566 79h3v1h-3zM495 80h2v1h-2zM512 80h9v1h-9zM565 80h1v1h-1zM494 81h1v1h-1zM493 82h1v1h-1zM492 83h1v1h-1zM490 84h2v1h-2zM488 85h2v1h-2zM486 86h2v1h-2zM484 87h2v1h-2zM483 88h1v1h-1zM481 89h2v1h-2zM479 90h2v1h-2zM477 91h2v1h-2zM476 92h1v1h-1zM475 93h1v1h-1zM473 94h2v1h-2zM472 95h1v1h-1zM472 96h1v1h-1zM471 97h1v1h-1zM470 98h1v1h-1zM470 99h1v1h-1zM469 100h1v1h-1zM469 101h1v1h-1zM468 102h1v1h-1zM468 103h1v1h-1zM467 104h1v1h-1zM467 105h1v1h-1zM466 106h1v1h-1zM466 107h1v1h-1zM465 108h1v1h-1zM464 109h1v1h-1zM464 110h1v1h-1zM463 111h1v1h-1zM463 112h1v1h-1zM462 113h1v1h-1zM461 114h1v1h-1zM461 115h1v1h-1zM460 116h1v1h-1zM460 117h1v1h-1zM459 118h1v1h-1zM459 119h1v1h-1zM458 120h1v1h-1zM458 121h1v1h-1zM457 122h1v1h-1zM457 123h1v1h-1zM456 124h1v1h-1zM455 125h1v1h-1zM455 126h1v1h-1zM454 127h1v1h-1zM454 128h1v1h-1zM453 129h1v1h-1zM452 130h1v1h-1zM452 131h1v1h-1zM451 132h1v1h-1zM451 133h1v1h-1zM450 134h1v1h-1zM448 135h2v1h-2zM447 136h1v1h-1zM446 137h1v1h-1zM445 138h1v1h-1zM440 139h5v1h-5zM437 140h3v1h-3zM434 141h3v1h-3zM432 142h2v1h-2zM431 143h1v1h-1zM431 144h1v1h-1zM353 145h15v1h-15zM430 145h1v1h-1zM351 146h2v1h-2zM368 146h6v1h-6zM429 146h1v1h-1zM349 147h2v1h-2zM374 147h3v1h-3zM428 147h1v1h-1zM348 148h1v1h-1zM377 148h6v1h-6zM427 148h1v1h-1zM346 149h2v1h-2zM383 149h6v1h-6zM425 149h2v1h-2zM345 150h1v1h-1zM389 150h36v1h-36zM343 151h2v1h-2zM342 152h1v1h-1zM341 153h1v1h-1zM340 154h1v1h-1zM339 155h1v1h-1zM338 156h1v1h-1zM337 157h1v1h-1zM336 158h1v1h-1zM334 159h2v1h-2zM332 160h2v1h-2zM320 161h3v1h-3zM329 161h3v1h-3zM315 162h5v1h-5zM323 162h6v1h-6zM313 163h2v1h-2zM311 164h2v1h-2zM308 165h3v1h-3zM302 166h6v1h-6zM299 167h3v1h-3zM297 168h2v1h-2zM280 169h1v1h-1zM295 169h2v1h-2zM279 170h1v1h-1zM281 170h9v1h-9zM293 170h2v1h-2zM277 171h2v1h-2zM290 171h3v1h-3zM275 172h2v1h-2zM274 173h1v1h-1zM273 174h1v1h-1zM272 175h1v1h-1zM272 176h1v1h-1zM271 177h1v1h-1zM270 178h1v1h-1zM269 179h1v1h-1zM268 180h1v1h-1zM267 181h1v1h-1zM266 182h1v1h-1zM266 183h1v1h-1zM265 184h1v1h-1zM264 185h1v1h-1zM263 186h1v1h-1zM262 187h1v1h-1zM261 188h1v1h-1zM260 189h1v1h-1zM259 190h1v1h-1zM258 191h1v1h-1zM257 192h1v1h-1zM256 193h1v1h-1zM256 194h1v1h-1zM255 195h1v1h-1zM254 196h1v1h-1zM254 197h1v1h-1zM253 198h1v1h-1zM253 199h1v1h-1zM252 200h1v1h-1zM252 201h1v1h-1zM251 202h1v1h-1zM251 203h1v1h-1zM250 204h1v1h-1zM250 205h1v1h-1zM249 206h1v1h-1zM249 207h1v1h-1zM248 208h1v1h-1zM248 209h1v1h-1zM247 210h1v1h-1zM247 211h1v1h-1zM246 212h1v1h-1zM246 213h1v1h-1zM245 214h1v1h-1zM245 215h1v1h-1zM244 216h1v1h-1zM244 217h1v1h-1zM243 218h1v1h-1zM242 219h1v1h-1zM242 220h1v1h-1zM241 221h1v1h-1zM240 222h1v1h-1zM240 223h1v1h-1zM239 224h1v1h-1zM238 225h1v1h-1zM237 226h1v1h-1zM236 227h1v1h-1zM236 228h1v1h-1zM235 229h1v1h-1zM235 230h1v1h-1zM158 231h5v1h-5zM234 231h1v1h-1zM155 232h3v1h-3zM163 232h3v1h-3zM234 232h1v1h-1zM153 233h2v1h-2zM166 233h1v1h-1zM232 233h2v1h-2zM151 234h2v1h-2zM167 234h1v1h-1zM231 234h1v1h-1zM150 235h1v1h-1zM168 235h1v1h-1zM230 235h1v1h-1zM150 236h1v1h-1zM169 236h2v1h-2zM229 236h1v1h-1zM150 237h1v1h-1zM171 237h2v1h-2zM227 237h2v1h-2zM149 238h1v1h-1zM173 238h2v1h-2zM226 238h1v1h-1zM149 239h1v1h-1zM175 239h2v1h-2zM225 239h1v1h-1zM148 240h1v1h-1zM177 240h1v1h-1zM194 240h9v1h-9zM224 240h1v1h-1zM148 241h1v1h-1zM178 241h4v1h-4zM191 241h3v1h-3zM203 241h2v1h-2zM223 241h1v1h-1zM147 242h1v1h-1zM182 242h2v1h-2zM187 242h4v1h-4zM205 242h2v1h-2zM221 242h2v1h-2zM147 243h1v1h-1zM184 243h3v1h-3zM207 243h1v1h-1zM218 243h3v1h-3zM146 244h1v1h-1zM208 244h4v1h-4zM215 244h3v1h-3zM146 245h1v1h-1zM212 245h3v1h-3zM146 246h1v1h-1zM145 247h1v1h-1zM145 248h1v1h-1zM144 249h1v1h-1zM144 250h1v1h-1zM144 251h1v1h-1zM143 252h1v1h-1zM142 253h2v1h-2zM140 254h2v1h-2zM138 255h2v1h-2zM136 256h2v1h-2zM135 257h1v1h-1zM133 258h2v1h-2zM131 259h2v1h-2zM130 260h1v1h-1zM129 261h1v1h-1zM127 262h2v1h-2zM126 263h1v1h-1zM87 264h11v1h-11zM125 264h1v1h-1zM85 265h2v1h-2zM98 265h2v1h-2zM124 265h1v1h-1zM83 266h2v1h-2zM100 266h8v1h-8zM123 266h1v1h-1zM82 267h1v1h-1zM108 267h4v1h-4zM122 267h1v1h-1zM81 268h1v1h-1zM112 268h4v1h-4zM121 268h1v1h-1zM79 269h2v1h-2zM116 269h2v1h-2zM120 269h1v1h-1zM77 270h2v1h-2zM118 270h2v1h-2zM76 271h1v1h-1zM74 272h2v1h-2zM71 273h3v1h-3zM70 274h1v1h-1zM69 275h1v1h-1zM67 276h2v1h-2zM65 277h2v1h-2zM64 278h1v1h-1zM63 279h1v1h-1zM61 280h2v1h-2zM60 281h1v1h-1zM59 282h1v1h-1zM58 283h1v1h-1zM57 284h1v1h-1zM55 285h2v1h-2zM54 286h1v1h-1zM53 287h1v1h-1zM52 288h1v1h-1zM51 289h1v1h-1zM49 290h2v1h-2zM48 291h1v1h-1zM47 292h1v1h-1zM46 293h1v1h-1zM45 294h1v1h-1zM43 295h2v1h-2zM42 296h1v1h-1zM41 297h1v1h-1zM39 298h2v1h-2zM14 299h3v1h-3zM38 299h1v1h-1zM9 300h5v1h-5zM17 300h2v1h-2zM37 300h1v1h-1zM7 301h2v1h-2zM19 301h2v1h-2zM36 301h1v1h-1zM5 302h2v1h-2zM21 302h1v1h-1zM35 302h1v1h-1zM4 303h1v1h-1zM22 303h1v1h-1zM32 303h3v1h-3zM2 304h2v1h-2zM23 304h5v1h-5zM29 304h3v1h-3zM0 305h2v1h-2zM28 305h1v1h-1z" fill="#ff00ff"/></g><g fill="none" stroke-width="1"><path d="M712 67h7v1h-7zM694 68h18v1h-18zM688 69h6v1h-6zM682 70h6v1h-6zM664 71h18v1h-18zM658 72h6v1h-6zM652 73h6v1h-6zM648 74h4v1h-4zM645 75h3v1h-3zM642 76h3v1h-3zM639 77h3v1h-3zM636 78h3v1h-3zM633 79h3v1h-3zM630 80h3v1h-3zM627 81h3v1h-3zM624 82h3v1h-3zM621 83h3v1h-3zM618 84h3v1h-3zM616 85h2v1h-2zM614 86h2v1h-2zM612 87h2v1h-2zM610 88h2v1h-2zM608 89h2v1h-2zM606 90h2v1h-2zM603 91h3v1h-3zM600 92h3v1h-3zM598 93h2v1h-2zM596 94h2v1h-2zM594 95h2v1h-2zM591 96h3v1h-3zM588 97h3v1h-3zM586 98h2v1h-2zM584 99h2v1h-2zM582 100h2v1h-2zM579 101h3v1h-3zM576 102h3v1h-3zM573 103h3v1h-3zM570 104h3v1h-3zM567 105h3v1h-3zM564 106h3v1h-3zM561 107h3v1h-3zM556 108h5v1h-5zM550 109h6v1h-6zM546 110h4v1h-4zM543 111h3v1h-3zM540 112h3v1h-3zM537 113h3v1h-3zM534 114h3v1h-3zM531 115h3v1h-3zM529 116h2v1h-2zM527 117h2v1h-2zM526 118h1v1h-1zM524 119h2v1h-2zM522 120h2v1h-2zM519 121h3v1h-3zM516 122h3v1h-3zM514 123h2v1h-2zM512 124h2v1h-2zM510 125h2v1h-2zM508 126h2v1h-2zM506 127h2v1h-2zM502 128h4v1h-4zM498 129h4v1h-4zM495 130h3v1h-3zM492 131h3v1h-3zM490 132h2v1h-2zM488 133h2v1h-2zM486 134h2v1h-2zM484 135h2v1h-2zM482 136h2v1h-2zM480 137h2v1h-2zM478 138h2v1h-2zM476 139h2v1h-2zM474 140h2v1h-2zM471 141h3v1h-3zM468 142h3v1h-3zM466 143h2v1h-2zM464 144h2v1h-2zM462 145h2v1h-2zM459 146h3v1h-3zM456 147h3v1h-3zM453 148h3v1h-3zM450 149h3v1h-3zM448 150h2v1h-2zM446 151h2v1h-2zM444 152h2v1h-2zM441 153h3v1h-3zM436 154h5v1h-5zM432 155h4v1h-4zM430 156h2v1h-2zM428 157h2v1h-2zM427 158h1v1h-1zM425 159h2v1h-2zM423 160h2v1h-2zM421 161h2v1h-2zM419 162h2v1h-2zM415 163h4v1h-4zM411 164h4v1h-4zM409 165h2v1h-2zM407 166h2v1h-2zM406 167h1v1h-1zM404 168h2v1h-2zM403 169h1v1h-1zM401 170h2v1h-2zM399 171h2v1h-2zM396 172h3v1h-3zM393 173h3v1h-3zM390 174h3v1h-3zM388 175h2v1h-2zM386 176h2v1h-2zM384 177h2v1h-2zM381 178h3v1h-3zM378 179h3v1h-3zM376 180h2v1h-2zM374 181h2v1h-2zM372 182h2v1h-2zM370 183h2v1h-2zM368 184h2v1h-2zM366 185h2v1h-2zM364 186h2v1h-2zM362 187h2v1h-2zM360 188h2v1h-2zM357 189h3v1h-3zM354 190h3v1h-3zM351 191h3v1h-3zM348 192h3v1h-3zM345 193h3v1h-3zM343 194h2v1h-2zM341 195h2v1h-2zM340 196h1v1h-1zM338 197h2v1h-2zM336 198h2v1h-2zM334 199h2v1h-2zM332 200h2v1h-2zM330 201h2v1h-2zM328 202h2v1h-2zM326 203h2v1h-2zM324 204h2v1h-2zM322 205h2v1h-2zM320 206h2v1h-2zM318 207h2v1h-2zM316 208h2v1h-2zM314 209h2v1h-2zM312 210h2v1h-2zM310 211h2v1h-2zM308 212h2v1h-2zM306 213h2v1h-2zM304 214h2v1h-2zM302 215h2v1h-2zM300 216h2v1h-2zM298 217h2v1h-2zM296 218h2v1h-2zM294 219h2v1h-2zM292 220h2v1h-2zM290 221h2v1h-2zM288 222h2v1h-2zM286 223h2v1h-2zM284 224h2v1h-2zM282 225h2v1h-2zM279 226h3v1h-3zM276 227h3v1h-3zM274 228h2v1h-2zM272 229h2v1h-2zM271 230h1v1h-1zM269 231h2v1h-2zM268 232h1v1h-1zM266 233h2v1h-2zM264 234h2v1h-2zM262 235h2v1h-2zM260 236h2v1h-2zM258 237h2v1h-2zM256 238h2v1h-2zM254 239h2v1h-2zM252 240h2v1h-2zM250 241h2v1h-2zM248 242h2v1h-2zM246 243h2v1h-2zM244 244h2v1h-2zM242 245h2v1h-2zM240 246h2v1h-2zM238 247h2v1h-2zM236 248h2v1h-2zM234 249h2v1h-2zM232 250h2v1h-2zM230 251h2v1h-2zM229 252h1v1h-1zM227 253h2v1h-2zM226 254h1v1h-1zM224 255h2v1h-2zM222 256h2v1h-2zM219 257h3v1h-3zM214 258h5v1h-5zM210 259h4v1h-4zM207 260h3v1h-3zM202 261h5v1h-5zM198 262h4v1h-4zM196 263h2v1h-2zM194 264h2v1h-2zM190 265h4v1h-4zM0 266h3v1h-3zM186 266h4v1h-4zM3 267h3v1h-3zM183 267h3v1h-3zM6 268h3v1h-3zM180 268h3v1h-3zM9 269h3v1h-3zM177 269h3v1h-3zM12 270h2v1h-2zM174 270h3v1h-3zM14 271h2v1h-2zM171 271h3v1h-3zM16 272h2v1h-2zM168 272h3v1h-3zM18 273h2v1h-2zM166 273h2v1h-2zM20 274h2v1h-2zM164 274h2v1h-2zM22 275h2v1h-2zM160 275h4v1h-4zM24 276h3v1h-3zM156 276h4v1h-4zM27 277h3v1h-3zM153 277h3v1h-3zM30 278h2v1h-2zM150 278h3v1h-3zM32 279h2v1h-2zM147 279h3v1h-3zM34 280h2v1h-2zM142 280h5v1h-5zM36 281h3v1h-3zM136 281h6v1h-6zM39 282h3v1h-3zM130 282h6v1h-6zM42 283h3v1h-3zM126 283h4v1h-4zM45 284h3v1h-3zM96 284h16v1h-16zM123 284h3v1h-3zM48 285h4v1h-4zM93 285h3v1h-3zM112 285h11v1h-11zM52 286h6v1h-6zM76 286h17v1h-17zM58 287h18v1h-18z" fill="#006400"/></g><path d="M3 266h3v1h-3zM4 265h1v3h-1zM9 268h3v1h-3zM10 267h1v3h-1zM15 270h3v1h-3zM16 269h1v3h-1zM21 273h3v1h-3zM22 272h1v3h-1zM27 276h3v1h-3zM28 275h1v3h-1zM33 278h3v1h-3zM34 277h1v3h-1zM39 281h3v1h-3zM40 280h1v3h-1zM45 283h3v1h-3zM46 282h1v3h-1zM51 285h3v1h-3zM52 284h1v3h-1zM57 286h3v1h-3zM58 285h1v3h-1zM63 287h3v1h-3zM64 286h1v3h-1zM69 287h3v1h-3zM70 286h1v3h-1zM75 287h3v1h-3zM76 286h1v3h-1zM81 286h3v1h-3zM82 285h1v3h-1zM87 286h3v1h-3zM88 285h1v3h-1zM93 286h3v1h-3zM94 285h1v3h-1zM99 284h3v1h-3zM100 283h1v3h-1zM105 284h3v1h-3zM106 283h1v3h-1zM111 284h3v1h-3zM112 283h1v3h-1zM117 285h3v1h-3zM118 284h1v3h-1zM123 285h3v1h-3zM124 284h1v3h-1zM129 283h3v1h-3zM130 282h1v3h-1zM135 282h3v1h-3zM136 281h1v3h-1zM141 281h3v1h-3zM142 280h1v3h-1zM147 280h3v1h-3zM148 279h1v3h-1zM153 278h3v1h-3zM154 277h1v3h-1zM159 276h3v1h-3zM160 275h1v3h-1zM165 275h3v1h-3zM166 274h1v3h-1zM171 272h3v1h-3zM172 271h1v3h-1zM177 270h3v1h-3zM178 269h1v3h-1zM183 268h3v1h-3zM184 267h1v3h-1zM189 266h3v1h-3zM190 265h1v3h-1zM195 265h3v1h-3zM196 264h1v3h-1zM201 262h3v1h-3zM202 261h1v3h-1zM207 261h3v1h-3zM208 260h1v3h-1zM213 259h3v1h-3zM214 258h1v3h-1zM219 258h3v1h-3zM220 257h1v3h-1zM225 256h3v1h-3zM226 255h1v3h-1zM231 252h3v1h-3zM232 251h1v3h-1zM237 249h3v1h-3zM238 248h1v3h-1zM243 246h3v1h-3zM244 245h1v3h-1zM249 243h3v1h-3zM250 242h1v3h-1zM255 240h3v1h-3zM256 239h1v3h-1zM261 237h3v1h-3zM262 236h1v3h-1zM267 234h3v1h-3zM268 233h1v3h-1zM273 230h3v1h-3zM274 229h1v3h-1zM279 227h3v1h-3zM280 226h1v3h-1zM285 225h3v1h-3zM286 224h1v3h-1zM291 222h3v1h-3zM292 221h1v3h-1zM297 219h3v1h-3zM298 218h1v3h-1zM303 216h3v1h-3zM304 215h1v3h-1zM309 213h3v1h-3zM310 212h1v3h-1zM315 210h3v1h-3zM316 209h1v3h-1zM321 207h3v1h-3zM322 206h1v3h-1zM327 204h3v1h-3zM328 203h1v3h-1zM333 201h3v1h-3zM334 200h1v3h-1zM339 198h3v1h-3zM340 197h1v3h-1zM345 194h3v1h-3zM346 193h1v3h-1zM351 192h3v1h-3zM352 191h1v3h-1zM357 190h3v1h-3zM358 189h1v3h-1zM363 188h3v1h-3zM364 187h1v3h-1zM369 185h3v1h-3zM370 184h1v3h-1zM375 182h3v1h-3zM376 181h1v3h-1zM381 179h3v1h-3zM382 178h1v3h-1zM387 177h3v1h-3zM388 176h1v3h-1zM393 174h3v1h-3zM394 173h1v3h-1zM399 172h3v1h-3zM400 171h1v3h-1zM405 170h3v1h-3zM406 169h1v3h-1zM411 167h3v1h-3zM412 166h1v3h-1zM417 164h3v1h-3zM418 163h1v3h-1zM423 161h3v1h-3zM424 160h1v3h-1zM429 158h3v1h-3zM430 157h1v3h-1zM435 155h3v1h-3zM436 154h1v3h-1zM441 154h3v1h-3zM442 153h1v3h-1zM447 152h3v1h-3zM448 151h1v3h-1zM453 149h3v1h-3zM454 148h1v3h-1zM459 147h3v1h-3zM460 146h1v3h-1zM465 145h3v1h-3zM466 144h1v3h-1zM471 142h3v1h-3zM472 141h1v3h-1zM477 140h3v1h-3zM478 139h1v3h-1zM483 137h3v1h-3zM484 136h1v3h-1zM489 134h3v1h-3zM490 133h1v3h-1zM495 131h3v1h-3zM496 130h1v3h-1zM501 129h3v1h-3zM502 128h1v3h-1zM507 128h3v1h-3zM508 127h1v3h-1zM513 125h3v1h-3zM514 124h1v3h-1zM519 122h3v1h-3zM520 121h1v3h-1zM525 120h3v1h-3zM526 119h1v3h-1zM531 116h3v1h-3zM532 115h1v3h-1zM537 114h3v1h-3zM538 113h1v3h-1zM543 112h3v1h-3zM544 111h1v3h-1zM549 110h3v1h-3zM550 109h1v3h-1zM555 109h3v1h-3zM556 108h1v3h-1zM561 108h3v1h-3zM562 107h1v3h-1zM567 106h3v1h-3zM568 105h1v3h-1zM573 104h3v1h-3zM574 103h1v3h-1zM579 102h3v1h-3zM580 101h1v3h-1zM585 100h3v1h-3zM586 99h1v3h-1zM591 97h3v1h-3zM592 96h1v3h-1zM597 95h3v1h-3zM598 94h1v3h-1zM603 92h3v1h-3zM604 91h1v3h-1zM609 90h3v1h-3zM610 89h1v3h-1zM615 87h3v1h-3zM616 86h1v3h-1zM621 84h3v1h-3zM622 83h1v3h-1zM627 82h3v1h-3zM628 81h1v3h-1zM633 80h3v1h-3zM634 79h1v3h-1zM639 78h3v1h-3zM640 77h1v3h-1zM645 76h3v1h-3zM646 75h1v3h-1zM651 74h3v1h-3zM652 73h1v3h-1zM657 73h3v1h-3zM658 72h1v3h-1zM663 72h3v1h-3zM664 71h1v3h-1zM669 71h3v1h-3zM670 70h1v3h-1zM675 71h3v1h-3zM676 70h1v3h-1zM681 71h3v1h-3zM682 70h1v3h-1zM687 70h3v1h-3zM688 69h1v3h-1zM693 69h3v1h-3zM694 68h1v3h-1zM699 68h3v1h-3zM700 67h1v3h-1zM705 68h3v1h-3zM706 67h1v3h-1zM711 68h3v1h-3zM712 67h1v3h-1zM717 67h3v1h-3zM718 66h1v3h-1z" fill="#006400"/><path d="M4 283h1v46h-1zM3 283h3v31h-3zM34 298h1v31h-1zM33 298h3v16h-3zM40 283h1v16h-1zM39 283h3v16h-3zM46 283h1v16h-1zM45 283h3v16h-3zM52 269h1v15h-1zM51 269h3v15h-3zM58 254h1v30h-1zM57 254h3v16h-3zM76 254h1v16h-1zM75 254h3v16h-3zM124 239h1v45h-1zM123 254h3v30h-3zM130 239h1v16h-1zM129 239h3v16h-3zM148 224h1v31h-1zM147 224h3v16h-3zM154 194h1v31h-1zM153 194h3v31h-3zM190 224h1v31h-1zM189 224h3v31h-3zM214 224h1v31h-1zM213 239h3v16h-3zM226 224h1v31h-1zM225 224h3v16h-3zM232 194h1v46h-1zM231 194h3v31h-3zM244 180h1v45h-1zM243 180h3v30h-3zM250 165h1v30h-1zM249 165h3v16h-3zM268 150h1v31h-1zM267 150h3v16h-3zM292 165h1v16h-1zM291 165h3v1h-3zM298 150h1v31h-1zM297 150h3v16h-3zM316 150h1v31h-1zM315 150h3v31h-3zM328 135h1v46h-1zM327 150h3v16h-3zM340 120h1v31h-1zM339 135h3v1h-3zM346 120h1v16h-1zM345 120h3v1h-3zM364 120h1v31h-1zM363 135h3v16h-3zM430 135h1v16h-1zM429 135h3v16h-3zM436 106h1v30h-1zM435 120h3v16h-3zM454 91h1v45h-1zM453 91h3v30h-3zM466 76h1v45h-1zM465 76h3v31h-3zM472 46h1v46h-1zM471 46h3v31h-3zM496 61h1v16h-1zM495 61h3v16h-3zM520 61h1v31h-1zM519 76h3v1h-3zM526 61h1v16h-1zM525 61h3v16h-3zM532 46h1v31h-1zM531 46h3v31h-3zM544 61h1v31h-1zM543 76h3v16h-3zM568 61h1v31h-1zM567 76h3v16h-3zM592 46h1v31h-1zM591 61h3v16h-3zM646 61h1v16h-1zM645 61h3v16h-3zM658 61h1v31h-1zM657 76h3v16h-3zM670 46h1v31h-1zM669 61h3v1h-3zM682 46h1v31h-1zM681 46h3v16h-3zM688 32h1v30h-1zM687 32h3v30h-3zM700 32h1v15h-1zM699 32h3v15h-3z" fill="#ff0000"/><path d="M10 283h1v31h-1zM9 298h3v1h-3zM16 283h1v31h-1zM15 298h3v1h-3zM22 298h1v31h-1zM21 298h3v16h-3zM28 298h1v31h-1zM27 313h3v1h-3zM64 239h1v31h-1zM63 254h3v16h-3zM70 254h1v16h-1zM69 269h3v1h-3zM82 239h1v31h-1zM81 254h3v1h-3zM88 239h1v16h-1zM87 254h3v1h-3zM94 254h1v16h-1zM93 254h3v16h-3zM100 254h1v30h-1zM99 254h3v16h-3zM106 254h1v16h-1zM105 269h3v1h-3zM112 254h1v16h-1zM111 269h3v1h-3zM118 254h1v30h-1zM117 269h3v15h-3zM136 239h1v16h-1zM135 239h3v1h-3zM142 239h1v16h-1zM141 239h3v1h-3zM160 194h1v46h-1zM159 209h3v16h-3zM166 224h1v16h-1zM165 224h3v16h-3zM172 224h1v31h-1zM171 239h3v16h-3zM178 239h1v16h-1zM177 254h3v1h-3zM184 239h1v31h-1zM183 254h3v1h-3zM196 209h1v31h-1zM195 224h3v16h-3zM202 239h1v31h-1zM201 239h3v16h-3zM208 239h1v31h-1zM207 254h3v1h-3zM220 239h1v31h-1zM219 239h3v1h-3zM238 194h1v31h-1zM237 209h3v1h-3zM256 165h1v16h-1zM255 165h3v1h-3zM262 165h1v16h-1zM261 165h3v1h-3zM274 135h1v31h-1zM273 150h3v1h-3zM280 135h1v31h-1zM279 150h3v16h-3zM286 135h1v46h-1zM285 165h3v16h-3zM304 150h1v16h-1zM303 150h3v16h-3zM310 165h1v16h-1zM309 165h3v1h-3zM322 150h1v31h-1zM321 150h3v31h-3zM334 135h1v31h-1zM333 150h3v1h-3zM352 120h1v46h-1zM351 120h3v31h-3zM358 135h1v16h-1zM357 150h3v1h-3zM370 120h1v46h-1zM369 135h3v16h-3zM376 135h1v31h-1zM375 150h3v1h-3zM382 135h1v16h-1zM381 150h3v1h-3zM388 135h1v31h-1zM387 150h3v1h-3zM394 135h1v31h-1zM393 150h3v1h-3zM400 135h1v31h-1zM399 150h3v1h-3zM406 135h1v31h-1zM405 150h3v1h-3zM412 135h1v31h-1zM411 150h3v1h-3zM418 135h1v31h-1zM417 150h3v1h-3zM424 150h1v16h-1zM423 150h3v1h-3zM442 106h1v30h-1zM441 106h3v30h-3zM448 120h1v31h-1zM447 135h3v1h-3zM460 91h1v45h-1zM459 91h3v16h-3zM478 46h1v31h-1zM477 46h3v31h-3zM484 61h1v31h-1zM483 61h3v16h-3zM490 61h1v31h-1zM489 76h3v1h-3zM502 46h1v31h-1zM501 61h3v16h-3zM508 76h1v16h-1zM507 76h3v1h-3zM514 61h1v31h-1zM513 76h3v16h-3zM538 61h1v46h-1zM537 61h3v31h-3zM550 76h1v31h-1zM549 76h3v1h-3zM556 76h1v31h-1zM555 91h3v1h-3zM562 76h1v31h-1zM561 91h3v1h-3zM574 61h1v31h-1zM573 76h3v1h-3zM580 61h1v31h-1zM579 76h3v1h-3zM586 61h1v31h-1zM585 76h3v1h-3zM598 61h1v16h-1zM597 61h3v1h-3zM604 46h1v31h-1zM603 61h3v1h-3zM610 46h1v31h-1zM609 61h3v1h-3zM616 46h1v31h-1zM615 46h3v16h-3zM622 61h1v16h-1zM621 61h3v1h-3zM628 46h1v31h-1zM627 61h3v1h-3zM634 46h1v31h-1zM633 61h3v16h-3zM640 61h1v31h-1zM639 76h3v1h-3zM652 61h1v31h-1zM651 76h3v1h-3zM664 61h1v31h-1zM663 76h3v1h-3zM676 46h1v31h-1zM675 61h3v1h-3zM694 32h1v30h-1zM693 32h3v30h-3zM706 32h1v30h-1zM705 32h3v30h-3zM712 46h1v16h-1zM711 61h3v1h-3zM718 46h1v31h-1zM717 61h3v16h-3z" fill="#0000ff"/><rect x="0" y="352" width="719" height="1" fill="#000"/><rect x="0" y="465" width="719" height="1" fill="#000"/><rect x="0" y="409" width="719" height="1" fill="#3399ff"/><g fill="none" stroke-width="1"><path d="M378 354h112v1h-112zM314 355h64v1h-64zM490 355h73v1h-73zM308 356h6v1h-6zM563 356h45v1h-45zM303 357h5v1h-5zM608 357h33v1h-33zM300 358h3v1h-3zM641 358h22v1h-22zM299 359h1v1h-1zM663 359h22v1h-22zM297 360h2v1h-2zM685 360h22v1h-22zM296 361h1v1h-1zM707 361h12v1h-12zM295 362h1v1h-1zM294 363h1v1h-1zM292 364h2v1h-2zM290 365h2v1h-2zM288 366h2v1h-2zM286 367h2v1h-2zM284 368h2v1h-2zM283 369h1v1h-1zM281 370h2v1h-2zM280 371h1v1h-1zM278 372h2v1h-2zM276 373h2v1h-2zM275 374h1v1h-1zM273 375h2v1h-2zM272 376h1v1h-1zM270 377h2v1h-2zM269 378h1v1h-1zM267 379h2v1h-2zM265 380h2v1h-2zM264 381h1v1h-1zM262 382h2v1h-2zM261 383h1v1h-1zM260 384h1v1h-1zM258 385h2v1h-2zM257 386h1v1h-1zM256 387h1v1h-1zM255 388h1v1h-1zM253 389h2v1h-2zM0 390h2v1h-2zM251 390h2v1h-2zM2 391h3v1h-3zM249 391h2v1h-2zM5 392h3v1h-3zM248 392h1v1h-1zM8 393h4v1h-4zM246 393h2v1h-2zM12 394h3v1h-3zM244 394h2v1h-2zM15 395h2v1h-2zM242 395h2v1h-2zM17 396h2v1h-2zM240 396h2v1h-2zM19 397h2v1h-2zM238 397h2v1h-2zM21 398h2v1h-2zM236 398h2v1h-2zM23 399h2v1h-2zM234 399h2v1h-2zM25 400h2v1h-2zM231 400h3v1h-3zM27 401h2v1h-2zM228 401h3v1h-3zM29 402h2v1h-2zM226 402h2v1h-2zM31 403h2v1h-2zM223 403h3v1h-3zM33 404h2v1h-2zM220 404h3v1h-3zM35 405h1v1h-1zM217 405h3v1h-3zM36 406h2v1h-2zM215 406h2v1h-2zM38 407h1v1h-1zM212 407h3v1h-3zM39 408h1v1h-1zM194 408h18v1h-18zM40 409h2v1h-2zM187 409h7v1h-7zM42 410h1v1h-1zM185 410h2v1h-2zM43 411h2v1h-2zM183 411h2v1h-2zM45 412h1v1h-1zM181 412h2v1h-2zM46 413h2v1h-2zM179 413h2v1h-2zM48 414h2v1h-2zM173 414h6v1h-6zM50 415h2v1h-2zM165 415h8v1h-8zM52 416h3v1h-3zM159 416h6v1h-6zM55 417h3v1h-3zM156 417h3v1h-3zM58 418h2v1h-2zM153 418h3v1h-3zM60 419h3v1h-3zM150 419h3v1h-3zM63 420h4v1h-4zM146 420h4v1h-4zM67 421h5v1h-5zM140 421h6v1h-6zM72 422h6v1h-6zM136 422h4v1h-4zM78 423h5v1h-5zM132 423h4v1h-4zM83 424h4v1h-4zM128 424h4v1h-4zM87 425h4v1h-4zM121 425h7v1h-7zM91 426h8v1h-8zM110 426h11v1h-11zM99 427h11v1h-11z" fill="#a8f8a8"/><path d="M311 356h252v1h-252zM300 357h11v1h-11zM563 357h45v1h-45zM292 358h8v1h-8zM608 358h31v1h-31zM286 359h6v1h-6zM639 359h18v1h-18zM281 360h5v1h-5zM657 360h17v1h-17zM275 361h6v1h-6zM674 361h18v1h-18zM271 362h4v1h-4zM692 362h18v1h-18zM268 363h3v1h-3zM710 363h9v1h-9zM266 364h2v1h-2zM263 365h3v1h-3zM261 366h2v1h-2zM260 367h1v1h-1zM259 368h1v1h-1zM258 369h1v1h-1zM257 370h1v1h-1zM256 371h1v1h-1zM255 372h1v1h-1zM254 373h1v1h-1zM253 374h1v1h-1zM252 375h1v1h-1zM251 376h1v1h-1zM250 377h1v1h-1zM249 378h1v1h-1zM248 379h1v1h-1zM247 380h1v1h-1zM246 381h1v1h-1zM245 382h1v1h-1zM244 383h1v1h-1zM243 384h1v1h-1zM242 385h1v1h-1zM241 386h1v1h-1zM240 387h1v1h-1zM239 388h1v1h-1zM237 389h2v1h-2zM236 390h1v1h-1zM235 391h1v1h-1zM234 392h1v1h-1zM233 393h1v1h-1zM232 394h1v1h-1zM230 395h2v1h-2zM228 396h2v1h-2zM226 397h2v1h-2zM224 398h2v1h-2zM222 399h2v1h-2zM221 400h1v1h-1zM219 401h2v1h-2zM218 402h1v1h-1zM216 403h2v1h-2zM214 404h2v1h-2zM213 405h1v1h-1zM211 406h2v1h-2zM205 407h6v1h-6zM194 408h11v1h-11zM187 409h7v1h-7zM184 410h3v1h-3zM182 411h2v1h-2zM179 412h3v1h-3zM173 413h6v1h-6zM165 414h8v1h-8zM160 415h5v1h-5zM158 416h2v1h-2zM156 417h2v1h-2zM154 418h2v1h-2zM153 419h1v1h-1zM151 420h2v1h-2zM149 421h2v1h-2zM147 422h2v1h-2zM144 423h3v1h-3zM141 424h3v1h-3zM137 425h4v1h-4zM134 426h3v1h-3zM131 427h3v1h-3zM128 428h3v1h-3zM126 429h2v1h-2zM124 430h2v1h-2zM123 431h1v1h-1zM121 432h2v1h-2zM119 433h2v1h-2zM10 434h4v1h-4zM115 434h4v1h-4zM0 435h10v1h-10zM14 435h4v1h-4zM112 435h3v1h-3zM18 436h3v1h-3zM105 436h7v1h-7zM21 437h2v1h-2zM65 437h8v1h-8zM88 437h17v1h-17zM23 438h2v1h-2zM58 438h7v1h-7zM73 438h5v1h-5zM83 438h5v1h-5zM25 439h2v1h-2zM53 439h5v1h-5zM78 439h5v1h-5zM27 440h3v1h-3zM49 440h4v1h-4zM30 441h2v1h-2zM45 441h4v1h-4zM32 442h3v1h-3zM42 442h3v1h-3zM35 443h7v1h-7z" fill="#80f080"/><path d="M370 356h120v1h-120zM297 357h73v1h-73zM490 357h73v1h-73zM283 358h14v1h-14zM563 358h45v1h-45zM268 359h15v1h-15zM608 359h30v1h-30zM260 360h8v1h-8zM638 360h14v1h-14zM249 361h11v1h-11zM652 361h15v1h-15zM241 362h8v1h-8zM667 362h15v1h-15zM235 363h6v1h-6zM682 363h14v1h-14zM232 364h3v1h-3zM696 364h15v1h-15zM230 365h2v1h-2zM711 365h8v1h-8zM228 366h2v1h-2zM226 367h2v1h-2zM224 368h2v1h-2zM222 369h2v1h-2zM221 370h1v1h-1zM219 371h2v1h-2zM217 372h2v1h-2zM215 373h2v1h-2zM213 374h2v1h-2zM211 375h2v1h-2zM210 376h1v1h-1zM209 377h1v1h-1zM207 378h2v1h-2zM206 379h1v1h-1zM205 380h1v1h-1zM204 381h1v1h-1zM203 382h1v1h-1zM201 383h2v1h-2zM200 384h1v1h-1zM199 385h1v1h-1zM198 386h1v1h-1zM196 387h2v1h-2zM195 388h1v1h-1zM194 389h1v1h-1zM193 390h1v1h-1zM192 391h1v1h-1zM190 392h2v1h-2zM189 393h1v1h-1zM188 394h1v1h-1zM187 395h1v1h-1zM186 396h1v1h-1zM185 397h1v1h-1zM184 398h1v1h-1zM182 399h2v1h-2zM181 400h1v1h-1zM180 401h1v1h-1zM179 402h1v1h-1zM178 403h1v1h-1zM176 404h2v1h-2zM174 405h2v1h-2zM172 406h2v1h-2zM170 407h2v1h-2zM168 408h2v1h-2zM166 409h2v1h-2zM164 410h2v1h-2zM163 411h1v1h-1zM161 412h2v1h-2zM159 413h2v1h-2zM157 414h2v1h-2zM154 415h3v1h-3zM152 416h2v1h-2zM150 417h2v1h-2zM0 418h1v1h-1zM146 418h4v1h-4zM1 419h2v1h-2zM142 419h4v1h-4zM3 420h2v1h-2zM137 420h5v1h-5zM5 421h2v1h-2zM133 421h4v1h-4zM7 422h2v1h-2zM129 422h4v1h-4zM9 423h2v1h-2zM123 423h6v1h-6zM11 424h2v1h-2zM119 424h4v1h-4zM13 425h2v1h-2zM117 425h2v1h-2zM15 426h2v1h-2zM115 426h2v1h-2zM17 427h1v1h-1zM113 427h2v1h-2zM18 428h1v1h-1zM111 428h2v1h-2zM19 429h1v1h-1zM105 429h6v1h-6zM20 430h2v1h-2zM99 430h6v1h-6zM22 431h1v1h-1zM97 431h2v1h-2zM23 432h1v1h-1zM95 432h2v1h-2zM24 433h1v1h-1zM93 433h2v1h-2zM25 434h2v1h-2zM91 434h2v1h-2zM27 435h1v1h-1zM89 435h2v1h-2zM28 436h2v1h-2zM85 436h4v1h-4zM30 437h2v1h-2zM82 437h3v1h-3zM32 438h1v1h-1zM75 438h7v1h-7zM33 439h1v1h-1zM68 439h7v1h-7zM34 440h2v1h-2zM63 440h5v1h-5zM36 441h1v1h-1zM55 441h8v1h-8zM37 442h1v1h-1zM54 442h1v1h-1zM38 443h2v1h-2zM53 443h1v1h-1zM40 444h3v1h-3zM52 444h1v1h-1zM43 445h5v1h-5zM51 445h1v1h-1zM48 446h3v1h-3z" fill="#38dc38"/><path d="M289 356h176v1h-176zM267 357h22v1h-22zM465 357h50v1h-50zM249 358h18v1h-18zM515 358h48v1h-48zM238 359h11v1h-11zM563 359h45v1h-45zM230 360h8v1h-8zM608 360h29v1h-29zM224 361h6v1h-6zM637 361h12v1h-12zM220 362h4v1h-4zM649 362h13v1h-13zM217 363h3v1h-3zM662 363h12v1h-12zM215 364h2v1h-2zM674 364h13v1h-13zM212 365h3v1h-3zM687 365h13v1h-13zM208 366h4v1h-4zM700 366h12v1h-12zM202 367h6v1h-6zM712 367h7v1h-7zM198 368h4v1h-4zM195 369h3v1h-3zM193 370h2v1h-2zM190 371h3v1h-3zM188 372h2v1h-2zM187 373h1v1h-1zM185 374h2v1h-2zM184 375h1v1h-1zM183 376h1v1h-1zM182 377h1v1h-1zM181 378h1v1h-1zM179 379h2v1h-2zM178 380h1v1h-1zM177 381h1v1h-1zM176 382h1v1h-1zM175 383h1v1h-1zM174 384h1v1h-1zM173 385h1v1h-1zM171 386h2v1h-2zM170 387h1v1h-1zM169 388h1v1h-1zM168 389h1v1h-1zM167 390h1v1h-1zM166 391h1v1h-1zM165 392h1v1h-1zM165 393h1v1h-1zM164 394h1v1h-1zM163 395h1v1h-1zM163 396h1v1h-1zM162 397h1v1h-1zM161 398h1v1h-1zM161 399h1v1h-1zM160 400h1v1h-1zM158 401h2v1h-2zM157 402h1v1h-1zM0 403h1v1h-1zM156 403h1v1h-1zM1 404h2v1h-2zM154 404h2v1h-2zM3 405h2v1h-2zM153 405h1v1h-1zM5 406h2v1h-2zM152 406h1v1h-1zM7 407h2v1h-2zM150 407h2v1h-2zM9 408h2v1h-2zM149 408h1v1h-1zM11 409h2v1h-2zM148 409h1v1h-1zM13 410h2v1h-2zM146 410h2v1h-2zM15 411h2v1h-2zM145 411h1v1h-1zM17 412h2v1h-2zM143 412h2v1h-2zM19 413h1v1h-1zM141 413h2v1h-2zM20 414h2v1h-2zM140 414h1v1h-1zM22 415h2v1h-2zM138 415h2v1h-2zM24 416h1v1h-1zM136 416h2v1h-2zM25 417h2v1h-2zM134 417h2v1h-2zM27 418h1v1h-1zM132 418h2v1h-2zM28 419h2v1h-2zM130 419h2v1h-2zM30 420h2v1h-2zM128 420h2v1h-2zM32 421h1v1h-1zM126 421h2v1h-2zM33 422h1v1h-1zM124 422h2v1h-2zM34 423h1v1h-1zM122 423h2v1h-2zM35 424h1v1h-1zM120 424h2v1h-2zM36 425h2v1h-2zM118 425h2v1h-2zM38 426h1v1h-1zM116 426h2v1h-2zM39 427h1v1h-1zM99 427h17v1h-17zM40 428h2v1h-2zM95 428h4v1h-4zM42 429h2v1h-2zM92 429h3v1h-3zM44 430h3v1h-3zM90 430h2v1h-2zM47 431h2v1h-2zM88 431h2v1h-2zM49 432h3v1h-3zM86 432h2v1h-2zM52 433h3v1h-3zM85 433h1v1h-1zM55 434h4v1h-4zM83 434h2v1h-2zM59 435h3v1h-3zM81 435h2v1h-2zM62 436h3v1h-3zM78 436h3v1h-3zM65 437h4v1h-4zM73 437h5v1h-5zM69 438h4v1h-4z" fill="#48ea48"/><path d="M264 356h45v1h-45zM371 356h62v1h-62zM231 357h33v1h-33zM309 357h62v1h-62zM433 357h5v1h-5zM488 357h54v1h-54zM227 358h4v1h-4zM438 358h50v1h-50zM542 358h14v1h-14zM223 359h4v1h-4zM556 359h18v1h-18zM219 360h4v1h-4zM574 360h17v1h-17zM213 361h6v1h-6zM591 361h18v1h-18zM625 361h12v1h-12zM208 362h5v1h-5zM609 362h16v1h-16zM637 362h11v1h-11zM202 363h6v1h-6zM648 363h5v1h-5zM198 364h4v1h-4zM653 364h3v1h-3zM194 365h4v1h-4zM656 365h2v1h-2zM190 366h4v1h-4zM658 366h3v1h-3zM187 367h3v1h-3zM661 367h18v1h-18zM184 368h3v1h-3zM679 368h11v1h-11zM182 369h2v1h-2zM690 369h7v1h-7zM179 370h3v1h-3zM697 370h14v1h-14zM176 371h3v1h-3zM711 371h5v1h-5zM172 372h4v1h-4zM716 372h3v1h-3zM168 373h4v1h-4zM165 374h3v1h-3zM162 375h3v1h-3zM159 376h3v1h-3zM156 377h3v1h-3zM154 378h2v1h-2zM153 379h1v1h-1zM153 380h1v1h-1zM152 381h1v1h-1zM151 382h1v1h-1zM151 383h1v1h-1zM150 384h1v1h-1zM149 385h1v1h-1zM149 386h1v1h-1zM148 387h1v1h-1zM147 388h1v1h-1zM147 389h1v1h-1zM146 390h1v1h-1zM145 391h1v1h-1zM145 392h1v1h-1zM144 393h1v1h-1zM143 394h1v1h-1zM142 395h1v1h-1zM142 396h1v1h-1zM141 397h1v1h-1zM140 398h1v1h-1zM139 399h1v1h-1zM139 400h1v1h-1zM138 401h1v1h-1zM137 402h1v1h-1zM136 403h1v1h-1zM135 404h1v1h-1zM134 405h1v1h-1zM133 406h1v1h-1zM132 407h1v1h-1zM131 408h1v1h-1zM130 409h1v1h-1zM129 410h1v1h-1zM128 411h1v1h-1zM127 412h1v1h-1zM127 413h1v1h-1zM126 414h1v1h-1zM125 415h1v1h-1zM124 416h1v1h-1zM122 417h2v1h-2zM120 418h2v1h-2zM118 419h2v1h-2zM115 420h3v1h-3zM111 421h4v1h-4zM107 422h4v1h-4zM105 423h2v1h-2zM103 424h2v1h-2zM102 425h1v1h-1zM100 426h2v1h-2zM99 427h1v1h-1zM98 428h1v1h-1zM96 429h2v1h-2zM95 430h1v1h-1zM94 431h1v1h-1zM93 432h1v1h-1zM92 433h1v1h-1zM91 434h1v1h-1zM90 435h1v1h-1zM88 436h2v1h-2zM86 437h2v1h-2zM84 438h2v1h-2zM0 439h2v1h-2zM82 439h2v1h-2zM2 440h2v1h-2zM81 440h1v1h-1zM4 441h3v1h-3zM80 441h1v1h-1zM7 442h5v1h-5zM79 442h1v1h-1zM12 443h8v1h-8zM74 443h5v1h-5zM20 444h6v1h-6zM67 444h7v1h-7zM26 445h2v1h-2zM63 445h4v1h-4zM28 446h3v1h-3zM59 446h4v1h-4zM31 447h3v1h-3zM57 447h2v1h-2zM34 448h2v1h-2zM54 448h3v1h-3zM36 449h3v1h-3zM50 449h4v1h-4zM39 450h11v1h-11z" fill="#008800"/><path d="M485 354h7v1h-7zM483 355h2v1h-2zM492 355h12v1h-12zM482 356h1v1h-1zM504 356h10v1h-10zM481 357h1v1h-1zM514 357h7v1h-7zM295 358h16v1h-16zM480 358h1v1h-1zM521 358h4v1h-4zM88 359h8v1h-8zM284 359h11v1h-11zM311 359h8v1h-8zM480 359h1v1h-1zM525 359h2v1h-2zM73 360h15v1h-15zM96 360h6v1h-6zM281 360h3v1h-3zM319 360h4v1h-4zM479 360h1v1h-1zM527 360h2v1h-2zM72 361h1v1h-1zM102 361h5v1h-5zM279 361h2v1h-2zM323 361h4v1h-4zM472 361h7v1h-7zM529 361h2v1h-2zM70 362h2v1h-2zM107 362h6v1h-6zM278 362h1v1h-1zM327 362h4v1h-4zM465 362h7v1h-7zM531 362h2v1h-2zM69 363h1v1h-1zM113 363h5v1h-5zM277 363h1v1h-1zM331 363h4v1h-4zM465 363h1v1h-1zM533 363h1v1h-1zM68 364h1v1h-1zM118 364h6v1h-6zM133 364h32v1h-32zM276 364h1v1h-1zM335 364h4v1h-4zM464 364h1v1h-1zM534 364h1v1h-1zM67 365h1v1h-1zM124 365h9v1h-9zM165 365h8v1h-8zM275 365h1v1h-1zM339 365h4v1h-4zM464 365h1v1h-1zM535 365h1v1h-1zM652 365h1v1h-1zM66 366h1v1h-1zM173 366h6v1h-6zM274 366h1v1h-1zM343 366h47v1h-47zM464 366h1v1h-1zM536 366h2v1h-2zM652 366h3v1h-3zM66 367h1v1h-1zM179 367h3v1h-3zM273 367h1v1h-1zM390 367h8v1h-8zM464 367h1v1h-1zM538 367h1v1h-1zM652 367h1v1h-1zM655 367h1v1h-1zM65 368h1v1h-1zM182 368h2v1h-2zM272 368h1v1h-1zM398 368h4v1h-4zM463 368h1v1h-1zM539 368h1v1h-1zM541 368h2v1h-2zM651 368h1v1h-1zM656 368h2v1h-2zM64 369h1v1h-1zM184 369h3v1h-3zM270 369h2v1h-2zM402 369h2v1h-2zM463 369h1v1h-1zM540 369h1v1h-1zM543 369h1v1h-1zM651 369h1v1h-1zM658 369h1v1h-1zM64 370h1v1h-1zM187 370h2v1h-2zM269 370h1v1h-1zM404 370h2v1h-2zM463 370h1v1h-1zM544 370h1v1h-1zM651 370h1v1h-1zM659 370h1v1h-1zM63 371h1v1h-1zM189 371h2v1h-2zM268 371h1v1h-1zM406 371h1v1h-1zM463 371h1v1h-1zM545 371h2v1h-2zM651 371h1v1h-1zM660 371h2v1h-2zM63 372h1v1h-1zM191 372h2v1h-2zM266 372h2v1h-2zM407 372h2v1h-2zM462 372h1v1h-1zM547 372h1v1h-1zM650 372h1v1h-1zM662 372h1v1h-1zM714 372h1v1h-1zM62 373h1v1h-1zM193 373h2v1h-2zM265 373h1v1h-1zM409 373h1v1h-1zM462 373h1v1h-1zM548 373h1v1h-1zM650 373h1v1h-1zM663 373h2v1h-2zM712 373h3v1h-3zM61 374h1v1h-1zM195 374h2v1h-2zM264 374h1v1h-1zM410 374h2v1h-2zM462 374h1v1h-1zM549 374h1v1h-1zM650 374h1v1h-1zM665 374h47v1h-47zM715 374h1v1h-1zM61 375h1v1h-1zM197 375h2v1h-2zM262 375h2v1h-2zM412 375h1v1h-1zM461 375h1v1h-1zM550 375h1v1h-1zM650 375h1v1h-1zM715 375h1v1h-1zM60 376h1v1h-1zM199 376h1v1h-1zM261 376h1v1h-1zM413 376h2v1h-2zM461 376h1v1h-1zM550 376h1v1h-1zM623 376h4v1h-4zM649 376h1v1h-1zM716 376h1v1h-1zM59 377h1v1h-1zM200 377h2v1h-2zM260 377h1v1h-1zM415 377h2v1h-2zM461 377h1v1h-1zM551 377h1v1h-1zM619 377h4v1h-4zM627 377h2v1h-2zM649 377h1v1h-1zM716 377h1v1h-1zM58 378h1v1h-1zM202 378h2v1h-2zM259 378h1v1h-1zM417 378h1v1h-1zM461 378h1v1h-1zM552 378h1v1h-1zM616 378h3v1h-3zM629 378h2v1h-2zM649 378h1v1h-1zM716 378h1v1h-1zM57 379h1v1h-1zM204 379h2v1h-2zM258 379h1v1h-1zM418 379h1v1h-1zM460 379h1v1h-1zM553 379h1v1h-1zM615 379h1v1h-1zM631 379h2v1h-2zM649 379h1v1h-1zM717 379h1v1h-1zM56 380h1v1h-1zM206 380h2v1h-2zM257 380h1v1h-1zM419 380h1v1h-1zM460 380h1v1h-1zM553 380h1v1h-1zM614 380h1v1h-1zM633 380h1v1h-1zM648 380h1v1h-1zM717 380h1v1h-1zM56 381h1v1h-1zM208 381h2v1h-2zM256 381h1v1h-1zM420 381h1v1h-1zM459 381h1v1h-1zM554 381h1v1h-1zM614 381h1v1h-1zM633 381h1v1h-1zM648 381h1v1h-1zM718 381h1v1h-1zM56 382h1v1h-1zM210 382h2v1h-2zM255 382h1v1h-1zM421 382h1v1h-1zM459 382h1v1h-1zM555 382h1v1h-1zM613 382h1v1h-1zM634 382h1v1h-1zM648 382h1v1h-1zM718 382h1v1h-1zM55 383h1v1h-1zM212 383h2v1h-2zM254 383h1v1h-1zM421 383h1v1h-1zM458 383h1v1h-1zM555 383h1v1h-1zM612 383h1v1h-1zM634 383h1v1h-1zM648 383h1v1h-1zM55 384h1v1h-1zM214 384h2v1h-2zM252 384h2v1h-2zM422 384h1v1h-1zM458 384h1v1h-1zM556 384h1v1h-1zM611 384h1v1h-1zM635 384h1v1h-1zM647 384h1v1h-1zM55 385h1v1h-1zM216 385h2v1h-2zM251 385h1v1h-1zM423 385h1v1h-1zM457 385h1v1h-1zM557 385h1v1h-1zM610 385h1v1h-1zM636 385h1v1h-1zM647 385h1v1h-1zM55 386h1v1h-1zM218 386h2v1h-2zM250 386h1v1h-1zM424 386h2v1h-2zM457 386h1v1h-1zM557 386h1v1h-1zM609 386h1v1h-1zM636 386h1v1h-1zM647 386h1v1h-1zM54 387h1v1h-1zM220 387h3v1h-3zM248 387h2v1h-2zM426 387h3v1h-3zM456 387h1v1h-1zM558 387h1v1h-1zM608 387h1v1h-1zM637 387h1v1h-1zM646 387h1v1h-1zM54 388h1v1h-1zM223 388h4v1h-4zM247 388h1v1h-1zM429 388h6v1h-6zM456 388h1v1h-1zM559 388h1v1h-1zM607 388h1v1h-1zM637 388h1v1h-1zM645 388h1v1h-1zM54 389h1v1h-1zM227 389h4v1h-4zM246 389h1v1h-1zM435 389h7v1h-7zM455 389h1v1h-1zM559 389h1v1h-1zM606 389h1v1h-1zM638 389h1v1h-1zM644 389h1v1h-1zM54 390h1v1h-1zM231 390h7v1h-7zM244 390h2v1h-2zM442 390h4v1h-4zM455 390h1v1h-1zM560 390h1v1h-1zM604 390h2v1h-2zM638 390h1v1h-1zM644 390h1v1h-1zM53 391h1v1h-1zM238 391h6v1h-6zM446 391h9v1h-9zM560 391h1v1h-1zM602 391h2v1h-2zM639 391h1v1h-1zM643 391h1v1h-1zM53 392h1v1h-1zM561 392h1v1h-1zM600 392h2v1h-2zM639 392h1v1h-1zM642 392h1v1h-1zM53 393h1v1h-1zM562 393h1v1h-1zM598 393h2v1h-2zM640 393h2v1h-2zM53 394h1v1h-1zM562 394h1v1h-1zM596 394h2v1h-2zM640 394h1v1h-1zM52 395h1v1h-1zM563 395h1v1h-1zM595 395h1v1h-1zM52 396h1v1h-1zM564 396h1v1h-1zM594 396h1v1h-1zM52 397h1v1h-1zM565 397h1v1h-1zM592 397h2v1h-2zM52 398h1v1h-1zM566 398h1v1h-1zM591 398h1v1h-1zM51 399h1v1h-1zM567 399h1v1h-1zM591 399h1v1h-1zM51 400h1v1h-1zM568 400h1v1h-1zM591 400h1v1h-1zM51 401h1v1h-1zM569 401h1v1h-1zM590 401h1v1h-1zM51 402h1v1h-1zM570 402h1v1h-1zM590 402h1v1h-1zM50 403h1v1h-1zM571 403h2v1h-2zM590 403h1v1h-1zM50 404h1v1h-1zM573 404h2v1h-2zM590 404h1v1h-1zM50 405h1v1h-1zM575 405h2v1h-2zM589 405h1v1h-1zM50 406h1v1h-1zM577 406h1v1h-1zM589 406h1v1h-1zM49 407h1v1h-1zM578 407h1v1h-1zM589 407h1v1h-1zM49 408h1v1h-1zM579 408h1v1h-1zM589 408h1v1h-1zM49 409h1v1h-1zM580 409h1v1h-1zM588 409h1v1h-1zM49 410h1v1h-1zM581 410h1v1h-1zM588 410h1v1h-1zM49 411h1v1h-1zM582 411h1v1h-1zM588 411h1v1h-1zM49 412h1v1h-1zM583 412h1v1h-1zM588 412h1v1h-1zM48 413h1v1h-1zM584 413h1v1h-1zM587 413h1v1h-1zM48 414h1v1h-1zM585 414h3v1h-3zM48 415h1v1h-1zM587 415h1v1h-1zM48 416h1v1h-1zM47 417h1v1h-1zM47 418h1v1h-1zM46 419h1v1h-1zM46 420h1v1h-1zM45 421h1v1h-1zM43 422h2v1h-2zM41 423h2v1h-2zM40 424h1v1h-1zM39 425h1v1h-1zM38 426h1v1h-1zM37 427h1v1h-1zM36 428h1v1h-1zM35 429h1v1h-1zM35 430h1v1h-1zM34 431h1v1h-1zM33 432h1v1h-1zM33 433h1v1h-1zM32 434h1v1h-1zM31 435h1v1h-1zM30 436h1v1h-1zM29 437h1v1h-1zM28 438h1v1h-1zM27 439h1v1h-1zM27 440h1v1h-1zM26 441h1v1h-1zM0 442h2v1h-2zM25 442h1v1h-1zM2 443h2v1h-2zM25 443h1v1h-1zM4 444h3v1h-3zM22 444h3v1h-3zM7 445h5v1h-5zM18 445h4v1h-4zM12 446h6v1h-6z" fill="#ffa8ff"/><path d="M501 357h9v1h-9zM299 358h14v1h-14zM499 358h2v1h-2zM510 358h11v1h-11zM86 359h11v1h-11zM293 359h6v1h-6zM313 359h2v1h-2zM490 359h9v1h-9zM521 359h4v1h-4zM85 360h1v1h-1zM97 360h11v1h-11zM291 360h2v1h-2zM315 360h1v1h-1zM483 360h7v1h-7zM525 360h4v1h-4zM83 361h2v1h-2zM108 361h4v1h-4zM289 361h2v1h-2zM316 361h2v1h-2zM483 361h1v1h-1zM529 361h2v1h-2zM82 362h1v1h-1zM112 362h2v1h-2zM155 362h10v1h-10zM287 362h2v1h-2zM318 362h1v1h-1zM342 362h27v1h-27zM482 362h1v1h-1zM531 362h4v1h-4zM81 363h1v1h-1zM114 363h2v1h-2zM145 363h10v1h-10zM165 363h8v1h-8zM285 363h2v1h-2zM319 363h1v1h-1zM334 363h8v1h-8zM369 363h4v1h-4zM482 363h1v1h-1zM535 363h5v1h-5zM80 364h1v1h-1zM116 364h1v1h-1zM125 364h20v1h-20zM173 364h10v1h-10zM283 364h2v1h-2zM320 364h2v1h-2zM326 364h8v1h-8zM373 364h8v1h-8zM481 364h1v1h-1zM540 364h4v1h-4zM79 365h1v1h-1zM117 365h2v1h-2zM121 365h4v1h-4zM183 365h7v1h-7zM282 365h1v1h-1zM322 365h4v1h-4zM381 365h10v1h-10zM481 365h1v1h-1zM544 365h2v1h-2zM78 366h1v1h-1zM119 366h2v1h-2zM190 366h2v1h-2zM280 366h2v1h-2zM391 366h6v1h-6zM480 366h1v1h-1zM546 366h2v1h-2zM679 366h14v1h-14zM77 367h1v1h-1zM192 367h2v1h-2zM279 367h1v1h-1zM397 367h6v1h-6zM480 367h1v1h-1zM548 367h2v1h-2zM672 367h7v1h-7zM693 367h19v1h-19zM77 368h1v1h-1zM194 368h2v1h-2zM277 368h2v1h-2zM403 368h4v1h-4zM479 368h1v1h-1zM550 368h1v1h-1zM671 368h1v1h-1zM712 368h1v1h-1zM76 369h1v1h-1zM196 369h2v1h-2zM276 369h1v1h-1zM407 369h4v1h-4zM478 369h1v1h-1zM551 369h1v1h-1zM670 369h1v1h-1zM712 369h1v1h-1zM75 370h1v1h-1zM198 370h3v1h-3zM274 370h2v1h-2zM411 370h2v1h-2zM478 370h1v1h-1zM552 370h1v1h-1zM669 370h1v1h-1zM713 370h1v1h-1zM74 371h1v1h-1zM201 371h3v1h-3zM272 371h2v1h-2zM413 371h3v1h-3zM477 371h1v1h-1zM553 371h1v1h-1zM669 371h1v1h-1zM713 371h1v1h-1zM73 372h1v1h-1zM204 372h2v1h-2zM271 372h1v1h-1zM416 372h3v1h-3zM476 372h1v1h-1zM554 372h1v1h-1zM669 372h1v1h-1zM714 372h1v1h-1zM73 373h1v1h-1zM206 373h3v1h-3zM269 373h2v1h-2zM419 373h2v1h-2zM476 373h1v1h-1zM555 373h1v1h-1zM668 373h1v1h-1zM714 373h1v1h-1zM72 374h1v1h-1zM209 374h3v1h-3zM268 374h1v1h-1zM421 374h2v1h-2zM475 374h1v1h-1zM556 374h1v1h-1zM668 374h1v1h-1zM715 374h1v1h-1zM72 375h1v1h-1zM212 375h3v1h-3zM266 375h2v1h-2zM423 375h4v1h-4zM474 375h1v1h-1zM557 375h1v1h-1zM668 375h1v1h-1zM715 375h1v1h-1zM71 376h1v1h-1zM215 376h2v1h-2zM264 376h2v1h-2zM427 376h8v1h-8zM473 376h1v1h-1zM558 376h1v1h-1zM668 376h1v1h-1zM716 376h1v1h-1zM71 377h1v1h-1zM217 377h3v1h-3zM262 377h2v1h-2zM435 377h8v1h-8zM473 377h1v1h-1zM559 377h1v1h-1zM625 377h5v1h-5zM667 377h1v1h-1zM716 377h1v1h-1zM70 378h1v1h-1zM220 378h42v1h-42zM443 378h30v1h-30zM560 378h1v1h-1zM621 378h4v1h-4zM630 378h4v1h-4zM667 378h1v1h-1zM717 378h1v1h-1zM70 379h1v1h-1zM561 379h1v1h-1zM619 379h2v1h-2zM634 379h3v1h-3zM667 379h1v1h-1zM717 379h1v1h-1zM69 380h1v1h-1zM562 380h1v1h-1zM617 380h2v1h-2zM636 380h1v1h-1zM667 380h1v1h-1zM718 380h1v1h-1zM69 381h1v1h-1zM563 381h1v1h-1zM616 381h1v1h-1zM637 381h1v1h-1zM667 381h1v1h-1zM68 382h1v1h-1zM564 382h2v1h-2zM615 382h1v1h-1zM637 382h1v1h-1zM666 382h1v1h-1zM68 383h1v1h-1zM566 383h2v1h-2zM613 383h2v1h-2zM637 383h1v1h-1zM666 383h1v1h-1zM67 384h1v1h-1zM568 384h2v1h-2zM612 384h1v1h-1zM637 384h1v1h-1zM645 384h1v1h-1zM666 384h1v1h-1zM67 385h1v1h-1zM570 385h2v1h-2zM611 385h1v1h-1zM638 385h1v1h-1zM645 385h3v1h-3zM666 385h1v1h-1zM67 386h1v1h-1zM572 386h4v1h-4zM610 386h1v1h-1zM638 386h1v1h-1zM644 386h1v1h-1zM648 386h2v1h-2zM665 386h1v1h-1zM66 387h1v1h-1zM576 387h2v1h-2zM610 387h1v1h-1zM638 387h1v1h-1zM644 387h1v1h-1zM650 387h2v1h-2zM665 387h1v1h-1zM66 388h1v1h-1zM578 388h1v1h-1zM609 388h1v1h-1zM638 388h1v1h-1zM643 388h1v1h-1zM652 388h1v1h-1zM665 388h1v1h-1zM65 389h1v1h-1zM579 389h1v1h-1zM608 389h1v1h-1zM639 389h1v1h-1zM643 389h1v1h-1zM653 389h1v1h-1zM664 389h1v1h-1zM65 390h1v1h-1zM580 390h2v1h-2zM608 390h1v1h-1zM639 390h1v1h-1zM642 390h1v1h-1zM654 390h1v1h-1zM663 390h1v1h-1zM65 391h1v1h-1zM582 391h1v1h-1zM607 391h1v1h-1zM639 391h1v1h-1zM642 391h1v1h-1zM655 391h1v1h-1zM661 391h2v1h-2zM64 392h1v1h-1zM583 392h1v1h-1zM607 392h1v1h-1zM639 392h1v1h-1zM641 392h1v1h-1zM656 392h1v1h-1zM660 392h1v1h-1zM64 393h1v1h-1zM584 393h1v1h-1zM607 393h1v1h-1zM640 393h2v1h-2zM657 393h1v1h-1zM659 393h1v1h-1zM64 394h1v1h-1zM585 394h2v1h-2zM606 394h1v1h-1zM640 394h1v1h-1zM658 394h1v1h-1zM63 395h1v1h-1zM587 395h1v1h-1zM606 395h1v1h-1zM640 395h1v1h-1zM63 396h1v1h-1zM588 396h1v1h-1zM606 396h1v1h-1zM62 397h1v1h-1zM589 397h2v1h-2zM605 397h1v1h-1zM62 398h1v1h-1zM591 398h2v1h-2zM605 398h1v1h-1zM62 399h1v1h-1zM593 399h4v1h-4zM605 399h1v1h-1zM61 400h1v1h-1zM597 400h4v1h-4zM604 400h1v1h-1zM61 401h1v1h-1zM601 401h4v1h-4zM60 402h1v1h-1zM60 403h1v1h-1zM59 404h1v1h-1zM59 405h1v1h-1zM58 406h1v1h-1zM57 407h1v1h-1zM57 408h1v1h-1zM56 409h1v1h-1zM55 410h1v1h-1zM55 411h1v1h-1zM54 412h1v1h-1zM53 413h1v1h-1zM53 414h1v1h-1zM52 415h1v1h-1zM51 416h1v1h-1zM50 417h1v1h-1zM50 418h1v1h-1zM49 419h1v1h-1zM48 420h1v1h-1zM47 421h1v1h-1zM46 422h1v1h-1zM46 423h1v1h-1zM45 424h1v1h-1zM44 425h1v1h-1zM44 426h1v1h-1zM43 427h1v1h-1zM43 428h1v1h-1zM42 429h1v1h-1zM42 430h1v1h-1zM41 431h1v1h-1zM41 432h1v1h-1zM40 433h1v1h-1zM40 434h1v1h-1zM13 435h4v1h-4zM39 435h1v1h-1zM10 436h3v1h-3zM17 436h2v1h-2zM39 436h1v1h-1zM9 437h1v1h-1zM19 437h2v1h-2zM38 437h1v1h-1zM8 438h1v1h-1zM21 438h2v1h-2zM38 438h1v1h-1zM7 439h1v1h-1zM23 439h2v1h-2zM37 439h1v1h-1zM0 440h7v1h-7zM25 440h1v1h-1zM37 440h1v1h-1zM26 441h2v1h-2zM36 441h1v1h-1zM28 442h1v1h-1zM34 442h2v1h-2zM29 443h2v1h-2zM33 443h1v1h-1zM31 444h2v1h-2z" fill="#ff80ff"/><path d="M344 358h10v1h-10zM503 358h8v1h-8zM517 358h10v1h-10zM105 359h9v1h-9zM150 359h18v1h-18zM313 359h5v1h-5zM342 359h2v1h-2zM354 359h14v1h-14zM502 359h1v1h-1zM511 359h2v1h-2zM515 359h2v1h-2zM527 359h10v1h-10zM103 360h2v1h-2zM114 360h2v1h-2zM136 360h14v1h-14zM168 360h4v1h-4zM308 360h5v1h-5zM318 360h6v1h-6zM340 360h2v1h-2zM368 360h10v1h-10zM502 360h1v1h-1zM513 360h2v1h-2zM537 360h4v1h-4zM101 361h2v1h-2zM116 361h2v1h-2zM129 361h7v1h-7zM172 361h4v1h-4zM306 361h2v1h-2zM324 361h16v1h-16zM378 361h6v1h-6zM501 361h1v1h-1zM541 361h3v1h-3zM100 362h1v1h-1zM118 362h11v1h-11zM176 362h4v1h-4zM304 362h2v1h-2zM384 362h7v1h-7zM500 362h1v1h-1zM544 362h4v1h-4zM694 362h11v1h-11zM99 363h1v1h-1zM180 363h6v1h-6zM301 363h3v1h-3zM391 363h5v1h-5zM499 363h1v1h-1zM548 363h2v1h-2zM688 363h6v1h-6zM705 363h6v1h-6zM98 364h1v1h-1zM186 364h5v1h-5zM297 364h4v1h-4zM396 364h3v1h-3zM498 364h1v1h-1zM550 364h2v1h-2zM688 364h1v1h-1zM711 364h1v1h-1zM97 365h1v1h-1zM191 365h6v1h-6zM293 365h4v1h-4zM399 365h4v1h-4zM498 365h1v1h-1zM552 365h1v1h-1zM688 365h1v1h-1zM712 365h2v1h-2zM97 366h1v1h-1zM197 366h4v1h-4zM290 366h3v1h-3zM403 366h5v1h-5zM497 366h1v1h-1zM553 366h1v1h-1zM687 366h1v1h-1zM714 366h1v1h-1zM96 367h1v1h-1zM201 367h4v1h-4zM287 367h3v1h-3zM408 367h4v1h-4zM495 367h2v1h-2zM554 367h2v1h-2zM687 367h1v1h-1zM715 367h1v1h-1zM95 368h1v1h-1zM205 368h4v1h-4zM284 368h3v1h-3zM412 368h4v1h-4zM493 368h2v1h-2zM556 368h1v1h-1zM687 368h1v1h-1zM716 368h1v1h-1zM94 369h1v1h-1zM209 369h4v1h-4zM281 369h3v1h-3zM416 369h5v1h-5zM491 369h2v1h-2zM557 369h2v1h-2zM687 369h1v1h-1zM716 369h1v1h-1zM93 370h1v1h-1zM213 370h6v1h-6zM238 370h43v1h-43zM421 370h70v1h-70zM559 370h2v1h-2zM686 370h1v1h-1zM717 370h1v1h-1zM92 371h1v1h-1zM219 371h19v1h-19zM561 371h2v1h-2zM686 371h1v1h-1zM718 371h1v1h-1zM92 372h1v1h-1zM563 372h2v1h-2zM686 372h1v1h-1zM91 373h1v1h-1zM565 373h2v1h-2zM686 373h1v1h-1zM90 374h1v1h-1zM567 374h2v1h-2zM685 374h1v1h-1zM90 375h1v1h-1zM569 375h3v1h-3zM685 375h1v1h-1zM89 376h1v1h-1zM572 376h4v1h-4zM685 376h1v1h-1zM89 377h1v1h-1zM576 377h2v1h-2zM628 377h3v1h-3zM684 377h1v1h-1zM88 378h1v1h-1zM578 378h2v1h-2zM628 378h1v1h-1zM631 378h2v1h-2zM684 378h1v1h-1zM87 379h1v1h-1zM580 379h2v1h-2zM627 379h1v1h-1zM633 379h2v1h-2zM683 379h1v1h-1zM87 380h1v1h-1zM582 380h2v1h-2zM627 380h1v1h-1zM635 380h2v1h-2zM683 380h1v1h-1zM86 381h1v1h-1zM584 381h2v1h-2zM627 381h1v1h-1zM637 381h1v1h-1zM651 381h3v1h-3zM682 381h1v1h-1zM85 382h1v1h-1zM586 382h2v1h-2zM626 382h1v1h-1zM638 382h2v1h-2zM649 382h2v1h-2zM654 382h3v1h-3zM682 382h1v1h-1zM85 383h1v1h-1zM588 383h2v1h-2zM626 383h1v1h-1zM640 383h3v1h-3zM647 383h2v1h-2zM657 383h2v1h-2zM681 383h1v1h-1zM84 384h1v1h-1zM590 384h3v1h-3zM626 384h1v1h-1zM643 384h4v1h-4zM659 384h2v1h-2zM681 384h1v1h-1zM83 385h1v1h-1zM593 385h4v1h-4zM625 385h1v1h-1zM661 385h2v1h-2zM680 385h1v1h-1zM82 386h1v1h-1zM597 386h3v1h-3zM625 386h1v1h-1zM663 386h2v1h-2zM680 386h1v1h-1zM82 387h1v1h-1zM600 387h4v1h-4zM624 387h1v1h-1zM665 387h2v1h-2zM679 387h1v1h-1zM81 388h1v1h-1zM604 388h3v1h-3zM624 388h1v1h-1zM667 388h3v1h-3zM677 388h2v1h-2zM79 389h2v1h-2zM607 389h4v1h-4zM623 389h1v1h-1zM670 389h3v1h-3zM676 389h1v1h-1zM77 390h2v1h-2zM611 390h6v1h-6zM623 390h1v1h-1zM673 390h3v1h-3zM75 391h2v1h-2zM617 391h6v1h-6zM74 392h1v1h-1zM73 393h1v1h-1zM72 394h1v1h-1zM72 395h1v1h-1zM71 396h1v1h-1zM70 397h1v1h-1zM69 398h1v1h-1zM68 399h1v1h-1zM68 400h1v1h-1zM67 401h1v1h-1zM66 402h1v1h-1zM65 403h1v1h-1zM64 404h1v1h-1zM64 405h1v1h-1zM63 406h1v1h-1zM62 407h1v1h-1zM62 408h1v1h-1zM61 409h1v1h-1zM61 410h1v1h-1zM60 411h1v1h-1zM60 412h1v1h-1zM60 413h1v1h-1zM59 414h1v1h-1zM59 415h1v1h-1zM58 416h1v1h-1zM58 417h1v1h-1zM57 418h1v1h-1zM57 419h1v1h-1zM56 420h1v1h-1zM55 421h1v1h-1zM54 422h1v1h-1zM54 423h1v1h-1zM53 424h1v1h-1zM52 425h1v1h-1zM51 426h1v1h-1zM49 427h2v1h-2zM48 428h1v1h-1zM47 429h1v1h-1zM46 430h1v1h-1zM45 431h1v1h-1zM44 432h1v1h-1zM43 433h1v1h-1zM42 434h1v1h-1zM41 435h1v1h-1zM40 436h1v1h-1zM33 437h3v1h-3zM39 437h1v1h-1zM30 438h3v1h-3zM36 438h3v1h-3zM27 439h3v1h-3zM24 440h3v1h-3zM22 441h2v1h-2zM16 442h6v1h-6zM10 443h6v1h-6zM8 444h2v1h-2zM7 445h1v1h-1zM7 446h1v1h-1zM6 447h1v1h-1zM6 448h1v1h-1zM5 449h1v1h-1zM5 450h1v1h-1zM0 451h5v1h-5z" fill="#ff00ff"/><path d="M463 354h157v1h-157zM439 355h24v1h-24zM620 355h37v1h-37zM409 356h30v1h-30zM657 356h62v1h-62zM400 357h9v1h-9zM395 358h5v1h-5zM392 359h3v1h-3zM389 360h3v1h-3zM385 361h4v1h-4zM382 362h3v1h-3zM379 363h3v1h-3zM376 364h3v1h-3zM373 365h3v1h-3zM370 366h3v1h-3zM368 367h2v1h-2zM366 368h2v1h-2zM363 369h3v1h-3zM360 370h3v1h-3zM357 371h3v1h-3zM353 372h4v1h-4zM0 373h3v1h-3zM348 373h5v1h-5zM3 374h5v1h-5zM344 374h4v1h-4zM8 375h3v1h-3zM342 375h2v1h-2zM11 376h3v1h-3zM340 376h2v1h-2zM14 377h3v1h-3zM337 377h3v1h-3zM17 378h4v1h-4zM333 378h4v1h-4zM21 379h5v1h-5zM329 379h4v1h-4zM26 380h3v1h-3zM325 380h4v1h-4zM29 381h3v1h-3zM319 381h6v1h-6zM32 382h3v1h-3zM314 382h5v1h-5zM35 383h3v1h-3zM308 383h6v1h-6zM38 384h3v1h-3zM303 384h5v1h-5zM41 385h4v1h-4zM297 385h6v1h-6zM45 386h11v1h-11zM292 386h5v1h-5zM56 387h3v1h-3zM286 387h6v1h-6zM59 388h4v1h-4zM281 388h5v1h-5zM63 389h6v1h-6zM275 389h6v1h-6zM69 390h16v1h-16zM270 390h5v1h-5zM85 391h6v1h-6zM264 391h6v1h-6zM91 392h6v1h-6zM260 392h4v1h-4zM97 393h5v1h-5zM257 393h3v1h-3zM102 394h5v1h-5zM252 394h5v1h-5zM107 395h5v1h-5zM246 395h6v1h-6zM112 396h4v1h-4zM238 396h8v1h-8zM116 397h4v1h-4zM231 397h7v1h-7zM120 398h6v1h-6zM227 398h4v1h-4zM126 399h8v1h-8zM223 399h4v1h-4zM134 400h29v1h-29zM219 400h4v1h-4zM163 401h9v1h-9zM213 401h6v1h-6zM172 402h11v1h-11zM205 402h8v1h-8zM183 403h22v1h-22z" fill="#0050ff"/></g><rect x="734" y="20" width="1" height="480" fill="#000"/><rect x="0" y="478" width="780" height="1" fill="#000"/><rect x="734" y="32" width="6" height="1" fill="#000"/><rect x="734" y="76" width="6" height="1" fill="#000"/><rect x="734" y="120" width="6" height="1" fill="#000"/><rect x="734" y="165" width="6" height="1" fill="#000"/><rect x="734" y="209" width="6" height="1" fill="#000"/><rect x="734" y="254" width="6" height="1" fill="#000"/><rect x="734" y="298" width="6" height="1" fill="#000"/><rect x="734" y="352" width="6" height="1" fill="#000"/><rect x="734" y="389" width="6" height="1" fill="#000"/><rect x="734" y="428" width="6" height="1" fill="#000"/><rect x="734" y="465" width="6" height="1" fill="#000"/><rect x="-2" y="478" width="1" height="5" fill="#000"/><rect x="46" y="478" width="1" height="5" fill="#000"/><rect x="94" y="478" width="1" height="5" fill="#000"/><rect x="142" y="478" width="1" height="5" fill="#000"/><rect x="190" y="478" width="1" height="5" fill="#000"/><rect x="238" y="478" width="1" height="5" fill="#000"/><rect x="286" y="478" width="1" height="5" fill="#000"/><rect x="334" y="478" width="1" height="5" fill="#000"/><rect x="382" y="478" width="1" height="5" fill="#000"/><rect x="430" y="478" width="1" height="5" fill="#000"/><rect x="478" y="478" width="1" height="5" fill="#000"/><rect x="526" y="478" width="1" height="5" fill="#000"/><rect x="574" y="478" width="1" height="5" fill="#000"/><rect x="622" y="478" width="1" height="5" fill="#000"/><rect x="670" y="478" width="1" height="5" fill="#000"/><rect x="718" y="478" width="1" height="5" fill="#000"/><rect x="0" y="327" width="8" height="1" fill="#000"/><defs><filter id="crisp" x="0" y="0" width="1" height="1"><feComponentTransfer><feFuncA type="table" tableValues="0 0.3 1 1"/></feComponentTransfer></filter></defs><g class="mono" filter="url(#crisp)"><text x="743" y="38">8,830</text><text x="743" y="82">8,815</text><text x="743" y="126">8,800</text><text x="743" y="171">8,785</text><text x="743" y="215">8,770</text><text x="743" y="260">8,755</text><text x="743" y="304">8,740</text><text x="743" y="358">100.00</text><text x="743" y="395">35.00</text><text x="743" y="434">-35.00</text><text x="743" y="471">-100.00</text><text x="-2" y="498">10:49</text><text x="46" y="498">11:23</text><text x="94" y="498">11:54</text><text x="142" y="498">12:30</text><text x="190" y="498">12:47</text><text x="238" y="498">13:02</text><text x="286" y="498">13:06</text><text x="334" y="498">13:17</text><text x="382" y="498">13:27</text><text x="430" y="498">13:50</text><text x="478" y="498">13:55</text><text x="526" y="498">14:09</text><text x="574" y="498">14:24</text><text x="622" y="498">14:42</text><text x="670" y="498">15:00</text><text x="718" y="498">15:</text><text x="526" y="36">最大 : 8,830 (2012/11/15)→</text><text x="9" y="332">最低 : 8,730 (2012/11/15)</text></g><text class="tenjo" x="675" y="349">天井</text></svg>
<div id="tb">
 <div class="lbtn"><div class="arr" style="left:2px;top:5px"></div></div>
 <div class="combo" style="left:18px;width:79px"><span class="ct" style="left:2px">先物</span><div class="cbtn"><div class="arr" style="left:3px;top:5px"></div></div></div>
 <div class="combo nb" style="left:98px;width:116px"><span class="ct" style="left:1px">日経225mini</span><div class="cbtn"><div class="arr" style="left:3px;top:5px"></div></div></div>
 <div class="combo" style="left:215px;width:87px"><span class="ct" style="left:-2px">12/12</span><div class="cbtn"><div class="arr" style="left:3px;top:5px"></div></div></div>
 <div class="blk" style="left:308px;width:20px"><span>足</span></div>
 <div class="inp dis" style="left:328px;width:39px"><span class="it" style="right:15px">1</span></div>
 <div class="spin" style="left:353px"><svg width="13" height="14" viewBox="0 0 13 14"><rect x="0" y="0" width="13" height="14" fill="#d9d5cc"/><path d="M0 0H12L0 13Z" fill="#f2f0ea"/><path d="M2 12.5 L11.5 2" stroke="#fff" stroke-width="1"/><path d="M0 13.5 L12.5 0.5" stroke="#000" stroke-width="1.4"/><path d="M12.5 0 V13.5 H0" stroke="#000" fill="none" stroke-width="1.2"/><path d="M2 4 L4 2 L6 4 Z" fill="#000"/></svg></div>
 <div class="btn" style="left:369px;width:19px"><span>日</span></div>
 <div class="btn" style="left:389px;width:19px"><span>週</span></div>
 <div class="btn" style="left:409px;width:19px"><span>月</span></div>
 <div class="btn" style="left:429px;width:19px"><span>分</span></div>
 <div class="btn yel" style="left:449px;width:19px"><span>T</span></div>
 <div class="blk" style="left:478px;width:20px"><span>T</span></div>
 <div class="inp" style="left:498px;width:41px"><span class="it" style="right:16px;letter-spacing:-0.5px">96</span></div>
 <div class="spin" style="left:523px"><svg width="13" height="14" viewBox="0 0 13 14"><rect x="0" y="0" width="13" height="14" fill="#d9d5cc"/><path d="M0 0H12L0 13Z" fill="#f2f0ea"/><path d="M2 12.5 L11.5 2" stroke="#fff" stroke-width="1"/><path d="M0 13.5 L12.5 0.5" stroke="#000" stroke-width="1.4"/><path d="M12.5 0 V13.5 H0" stroke="#000" fill="none" stroke-width="1.2"/><path d="M2 4 L4 2 L6 4 Z" fill="#000"/></svg></div>
 <div class="blk" style="left:539px;width:29px"><span>本数</span></div>
 <div class="inp" style="left:568px;width:50px"><span class="it" style="right:15px;letter-spacing:-0.5px">500</span></div>
 <div class="spin" style="left:603px"><svg width="13" height="14" viewBox="0 0 13 14"><rect x="0" y="0" width="13" height="14" fill="#d9d5cc"/><path d="M0 0H12L0 13Z" fill="#f2f0ea"/><path d="M2 12.5 L11.5 2" stroke="#fff" stroke-width="1"/><path d="M0 13.5 L12.5 0.5" stroke="#000" stroke-width="1.4"/><path d="M12.5 0 V13.5 H0" stroke="#000" fill="none" stroke-width="1.2"/><path d="M2 4 L4 2 L6 4 Z" fill="#000"/></svg></div>
 <div class="btn" style="left:619px;width:35px"><span>適用</span></div>
 <div class="btn dtx" style="left:718px;width:60px"><span>複数銘柄</span></div>
</div>
</body></html>
